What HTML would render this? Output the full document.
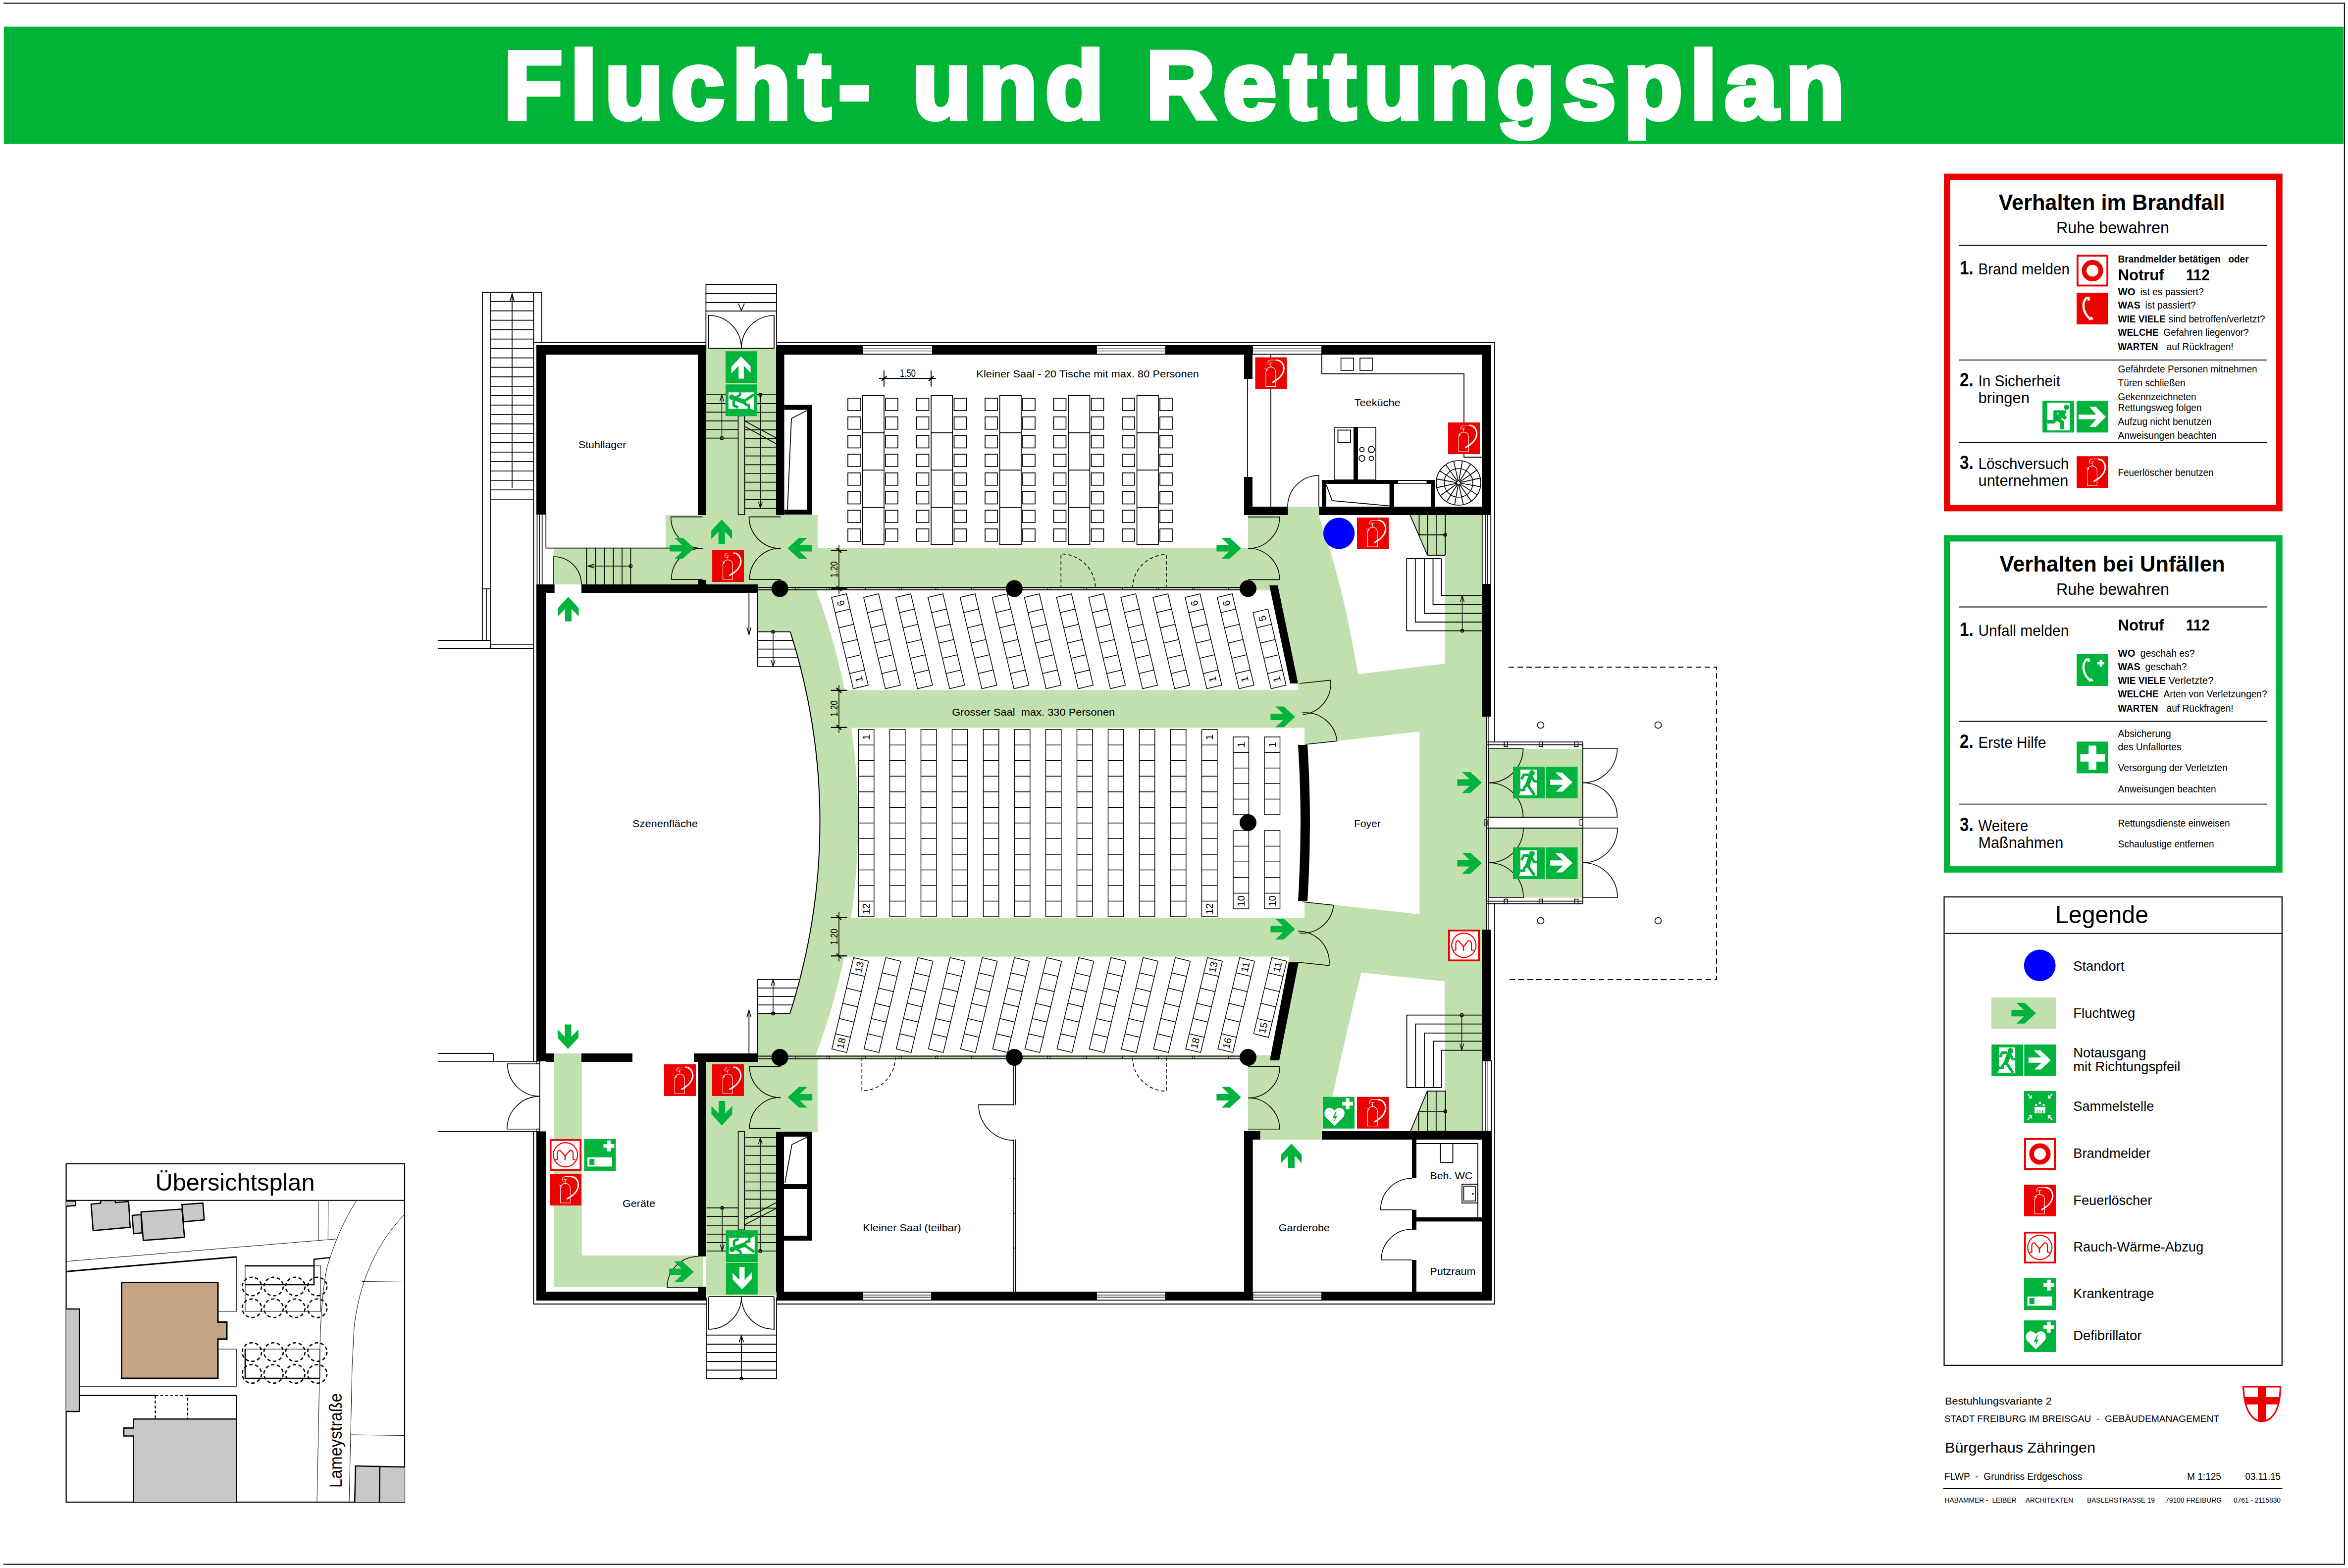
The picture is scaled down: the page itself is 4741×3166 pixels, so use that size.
<!DOCTYPE html><html><head><meta charset="utf-8"><style>html,body{margin:0;padding:0;background:#fff}svg{display:block}text{font-family:"Liberation Sans",sans-serif}</style></head><body>
<svg xmlns="http://www.w3.org/2000/svg" width="4741" height="3166" viewBox="0 0 4741 3166">
<rect width="4741" height="3166" fill="#fff"/>
<defs>
<g id="fe"><rect width="64" height="64" fill="#EC0000"/>
<path d="M21.5,59 L21.5,28 C23,22 27,19.6 31.5,19.4 C36,19.6 40,22 41.3,28 L41.3,59 Z M21.5,28 L24.5,26 L24.5,23.5" fill="none" stroke="#fff" stroke-width="1.1"/>
<path d="M31.6,19.4 L31.6,11.2 M28,11.2 L35.2,11.2 M28,15 L31.6,15 M19,22.5 L24,24.5" fill="none" stroke="#fff" stroke-width="1"/>
<path d="M26,14.5 C24.5,9 27,5.5 31.5,5.5 L44,5.5" fill="none" stroke="#fff" stroke-width="1.2"/>
<path d="M44,5.8 C55,7 61,19 56,31 C52,40 44,46 35.5,50.3" fill="none" stroke="#fff" stroke-width="3" stroke-linecap="round"/>
</g>
<g id="exm"><rect width="64" height="64" fill="#00B33C"/>
<rect x="14.8" y="5.9" width="33.1" height="51.9" fill="#fff"/>
<polygon points="11.7,57.8 14.8,52 34.6,52 34.6,57.8" fill="#fff"/>
<circle cx="38.3" cy="12.7" r="5.6" fill="#00B33C"/>
<path d="M35.5,19.5 L29,37" stroke="#00B33C" stroke-width="9" stroke-linecap="round" fill="none"/>
<path d="M36,17.6 L42.6,29 L48,30" stroke="#00B33C" stroke-width="5" fill="none" stroke-linejoin="round"/>
<path d="M32,16.4 L21.6,16.4 L17.3,25.6" stroke="#00B33C" stroke-width="5.2" fill="none" stroke-linejoin="round"/>
<path d="M29,36 L43.5,57" stroke="#00B33C" stroke-width="5.6" fill="none"/>
<path d="M28,36 L22.5,42.5 L22.5,47 L14.8,47" stroke="#00B33C" stroke-width="5" fill="none" stroke-linejoin="miter"/>
</g>
<g id="exml"><use href="#exm" transform="translate(64,0) scale(-1,1)"/></g>
<g id="exa"><rect width="64" height="64" fill="#00B33C"/>
<polygon points="8.6,26.3 34.8,26.3 19.1,11.7 32.7,11.7 53.7,31.4 33.5,50.6 20.4,50.6 34.8,36.8 8.6,36.8" fill="#fff"/></g>
<g id="bm"><rect x="1.9" y="1.9" width="60.2" height="60.2" fill="#fff" stroke="#EC0000" stroke-width="3.8"/>
<circle cx="32" cy="32" r="16.8" fill="none" stroke="#EC0000" stroke-width="9.6"/></g>
<g id="rwa"><rect x="1.8" y="1.8" width="60.4" height="60.4" fill="#fff" stroke="#EC0000" stroke-width="3.6"/>
<circle cx="31.8" cy="31.6" r="24.5" fill="none" stroke="#EC0000" stroke-width="2.2"/>
<path d="M11,41.5 L15.5,41.5 L15.5,29 Q15.8,22 21,22.5 L31,34.5 L41,22.5 Q46.8,22 47.2,29 L47.2,41.5 L52,41.5" fill="none" stroke="#EC0000" stroke-width="2.2" stroke-linejoin="round"/>
<path d="M31,34 L31,42.5" fill="none" stroke="#EC0000" stroke-width="2.6"/></g>
<g id="kt"><rect width="64" height="64" fill="#00B33C"/>
<path d="M39,13.8 L61,13.8 M50,2.8 L50,24.8" stroke="#fff" stroke-width="7.4"/>
<rect x="6.7" y="36.8" width="49.6" height="18.6" fill="#fff"/><rect x="10.6" y="40" width="10.2" height="12.2" fill="#00B33C"/></g>
<g id="defi"><rect width="64" height="64" fill="#00B33C"/>
<path d="M39,13.8 L61,13.8 M50,2.8 L50,24.8" stroke="#fff" stroke-width="7.4"/>
<path d="M23.7,58.6 L7,42 C1,35.5 3,23.5 12,22.2 C17,21.5 21,24 23.7,28 C26.5,24 30.5,21.5 35.5,22.2 C44.5,23.5 46.5,35.5 40.4,42 Z" fill="#fff"/>
<polygon points="26,30 19.5,43 24.5,43 21,53 29.5,38.5 24.5,38.5 28,30" fill="#00B33C"/></g>
<g id="fa"><rect width="64" height="64" fill="#00B33C"/>
<path d="M32,8 L32,57 M7.5,32.5 L57,32.5" stroke="#fff" stroke-width="15.5"/></g>
<g id="ph"><rect width="64" height="64" fill="#EC0000"/>
<path d="M21,9 C10,20 11,38 27,53 L30,50 M24,9 L25,15" fill="none" stroke="#fff" stroke-width="4.5" stroke-linecap="butt"/>
<path d="M22,8 L26,8.5 L25.5,16 L22,16 Z M27,51 L30,48 L34,53 L31,55.5 Z" fill="#fff"/></g>
<g id="phg"><rect width="64" height="64" fill="#00B33C"/>
<path d="M21,9 C10,20 11,38 27,53 L30,50 M24,9 L25,15" fill="none" stroke="#fff" stroke-width="4.5"/>
<path d="M22,8 L26,8.5 L25.5,16 L22,16 Z M27,51 L30,48 L34,53 L31,55.5 Z" fill="#fff"/>
<path d="M42,18 L56,18 M49,11 L49,25" stroke="#fff" stroke-width="4.8"/></g>
<g id="sam"><rect width="64" height="64" fill="#00B33C"/>
<g stroke="#fff" stroke-width="2.2" fill="none"><path d="M7,6 L15,14 M15,8.5 L15,14 L9.5,14"/><path d="M57,6 L49,14 M49,8.5 L49,14 L54.5,14"/>
<path d="M7,58 L15,50 M15,55.5 L15,50 L9.5,50"/><path d="M57,58 L49,50 M49,55.5 L49,50 L54.5,50"/></g>
<g fill="#fff"><circle cx="32" cy="24" r="2.6"/><circle cx="24.5" cy="28" r="2.3"/><circle cx="39.5" cy="28" r="2.3"/><circle cx="28" cy="34" r="2.2"/><circle cx="36" cy="34" r="2.2"/>
<rect x="21" y="32" width="22" height="13" rx="2"/></g>
<path d="M26.5,38 L26.5,46 M32,38 L32,46 M37.5,38 L37.5,46" stroke="#00B33C" stroke-width="1.5"/></g>
<g id="exm2"><rect width="64" height="64" fill="#00B33C"/>
<rect x="9.5" y="3.7" width="45.4" height="56.1" fill="#fff"/>
<circle cx="48.5" cy="12.9" r="5.3" fill="#00B33C"/>
<polygon points="22,21 23.5,19.3 46.6,19.3 48.8,22.4 44.5,28 49.5,33.5 45,38.5 39.5,34.5 34,40 30,40 23.5,46 9.5,46 9.5,38.7 20.8,38.7 22,36" fill="#00B33C"/>
<polygon points="29,40 36.5,36 43.5,42 43.5,57.7 36,57.7 36,45" fill="#00B33C"/>
<circle cx="31" cy="26" r="1.3" fill="#fff"/></g>
<g id="exa2"><rect width="64" height="64" fill="#00B33C"/>
<polygon points="4,27.9 39.6,27.9 25.8,12 39,12 58.9,32.4 39,52.8 25.8,52.8 39.6,37.1 4,37.1" fill="#fff"/></g>
</defs>
<line x1="7" y1="6.5" x2="4734" y2="6.5" stroke="#000" stroke-width="2" />
<line x1="7" y1="3158.6" x2="4734" y2="3158.6" stroke="#000" stroke-width="2" />
<line x1="4733.8" y1="5.5" x2="4733.8" y2="3159.6" stroke="#000" stroke-width="2" />
<rect x="8" y="53.7" width="4724" height="237.1" fill="#00B536" />
<text x="1017.8" y="239.4" font-size="193" font-weight="bold" fill="#fff" stroke="#fff" stroke-width="10" stroke-linejoin="miter" stroke-miterlimit="4" textLength="2706" lengthAdjust="spacing">Flucht- und Rettungsplan</text>
<rect x="1426" y="703" width="141" height="337" fill="#C2E0AE" />
<rect x="2600.5" y="1023" width="62.5" height="18" fill="#C2E0AE" />
<rect x="1344" y="1040" width="307" height="148" fill="#C2E0AE" />
<rect x="1118" y="1107" width="226" height="73" fill="#C2E0AE" />
<rect x="1651" y="1106.6" width="869" height="83.4" fill="#C2E0AE" />
<polygon points="1530,1188 2640,1188 2640,2135 1530,2137 1530,2046 1595.1,2046 1601.1,2026.7 1606.8,2007.5 1612.1,1988.2 1617.2,1969 1621.9,1949.7 1626.2,1930.4 1630.3,1911.2 1634,1891.9 1637.5,1872.7 1640.6,1853.4 1643.4,1834.1 1646,1814.9 1648.2,1795.6 1650.1,1776.4 1651.8,1757.1 1653.1,1737.8 1654.1,1718.6 1654.9,1699.3 1655.3,1680.1 1655.5,1660.8 1655.4,1641.5 1654.9,1622.3 1654.2,1603 1653.2,1583.8 1651.9,1564.5 1650.3,1545.2 1648.4,1526 1646.2,1506.7 1643.7,1487.5 1640.9,1468.2 1637.8,1448.9 1634.3,1429.7 1630.6,1410.4 1626.6,1391.2 1622.2,1371.9 1617.6,1352.6 1612.6,1333.4 1607.3,1314.1 1601.6,1294.9 1595.6,1275.6 1530,1275.6" fill="#C2E0AE" stroke="none" stroke-width="0" />
<polygon points="2520,1040 2992,1040 2992,2301 2520,2301" fill="#C2E0AE" stroke="none" stroke-width="0" />
<rect x="2990" y="1447" width="11.3" height="430" fill="#C2E0AE" />
<rect x="3006" y="1512" width="190" height="138" fill="#C2E0AE" />
<rect x="3006" y="1672" width="190" height="140.5" fill="#C2E0AE" />
<rect x="1426" y="2135" width="142" height="480.6" fill="#C2E0AE" />
<rect x="1568" y="2135" width="83" height="150" fill="#C2E0AE" />
<rect x="1118" y="2127" width="56.7" height="471.5" fill="#C2E0AE" />
<rect x="1118" y="2535" width="294" height="63.5" fill="#C2E0AE" />
<path d="M1346,2600 L1346,2590 A63,63 0 0 1 1409,2537 L1420,2537 L1420,2600 Z" fill="#C2E0AE" stroke="none" stroke-width="0" />
<polygon points="2563,1192 2580,1192 2621,1385 2622,1393.6 1705.8,1393.6 1702.3,1376.8 1698.5,1360 1694.5,1343.2 1690.3,1326.4 1685.9,1309.6 1681.2,1292.8 1676.3,1276 1671.2,1259.2 1665.8,1242.4 1660.2,1225.6 1654.3,1208.8 1648.2,1192" fill="#fff" stroke="none" stroke-width="0" />
<polygon points="1718.9,1469.5 1721.5,1488.7 1723.8,1507.8 1725.9,1527 1727.7,1546.2 1729.2,1565.4 1730.4,1584.5 1731.3,1603.7 1732,1622.9 1732.4,1642.1 1732.5,1661.2 1732.3,1680.4 1731.9,1699.6 1731.2,1718.8 1730.2,1738 1729,1757.1 1727.4,1776.3 1725.6,1795.5 1723.6,1814.7 1721.2,1833.8 1718.5,1853 2634,1853 2634,1469.5" fill="#fff" stroke="none" stroke-width="0" />
<polygon points="1704.7,1931.6 1701.2,1948.2 1697.4,1964.8 1693.4,1981.3 1689.2,1997.9 1684.8,2014.5 1680.1,2031.1 1675.2,2047.7 1670.1,2064.3 1664.8,2080.8 1659.1,2097.4 1653.3,2114 1647.2,2130.6 2572,2130.6 2603,1931.6" fill="#fff" stroke="none" stroke-width="0" />
<path d="M2662,1040 L2847,1040 L2882,1121 L2917.4,1121 L2917.4,1340 L2742,1361.3 Q2710,1170 2662,1040 Z" fill="#fff" stroke="none" stroke-width="0" />
<polygon points="2638.5,1503.3 2866.5,1477 2866.5,1846 2638.5,1821" fill="#fff" stroke="none" stroke-width="0" />
<path d="M2748.5,1963.8 L2917,1981.6 L2917,2203 L2882,2203 L2848,2284 L2669,2284 L2690,2215 Q2715,2100 2748.5,1963.8 Z" fill="#fff" stroke="none" stroke-width="0" />
<line x1="1078" y1="691" x2="1425.4" y2="691" stroke="#000" stroke-width="1.8" />
<line x1="1568" y1="691" x2="3018" y2="691" stroke="#000" stroke-width="1.8" />
<line x1="3018" y1="691" x2="3018" y2="1499" stroke="#000" stroke-width="1.8" />
<line x1="3018" y1="1823.5" x2="3018" y2="2633" stroke="#000" stroke-width="1.8" />
<line x1="1077" y1="2633" x2="1426" y2="2633" stroke="#000" stroke-width="1.8" />
<line x1="1568" y1="2633" x2="3019" y2="2633" stroke="#000" stroke-width="1.8" />
<line x1="1077.5" y1="691" x2="1077.5" y2="2143" stroke="#000" stroke-width="1.8" />
<line x1="1077.5" y1="2284.4" x2="1077.5" y2="2633" stroke="#000" stroke-width="1.8" />
<line x1="974" y1="590" x2="974" y2="1293" stroke="#000" stroke-width="1.8" />
<line x1="990" y1="590" x2="990" y2="1309" stroke="#000" stroke-width="1.8" />
<line x1="1094" y1="590" x2="1094" y2="691" stroke="#000" stroke-width="1.8" />
<line x1="1077.5" y1="590" x2="1077.5" y2="691" stroke="#000" stroke-width="1.8" />
<line x1="974" y1="590" x2="1094" y2="590" stroke="#000" stroke-width="1.8" />
<line x1="990" y1="608.6" x2="1077.5" y2="608.6" stroke="#000" stroke-width="1.7" />
<line x1="990" y1="627.6" x2="1077.5" y2="627.6" stroke="#000" stroke-width="1.7" />
<line x1="990" y1="646.6" x2="1077.5" y2="646.6" stroke="#000" stroke-width="1.7" />
<line x1="990" y1="665.7" x2="1077.5" y2="665.7" stroke="#000" stroke-width="1.7" />
<line x1="990" y1="684.7" x2="1077.5" y2="684.7" stroke="#000" stroke-width="1.7" />
<line x1="990" y1="703.7" x2="1077.5" y2="703.7" stroke="#000" stroke-width="1.7" />
<line x1="990" y1="722.7" x2="1077.5" y2="722.7" stroke="#000" stroke-width="1.7" />
<line x1="990" y1="741.7" x2="1077.5" y2="741.7" stroke="#000" stroke-width="1.7" />
<line x1="990" y1="760.8" x2="1077.5" y2="760.8" stroke="#000" stroke-width="1.7" />
<line x1="990" y1="779.8" x2="1077.5" y2="779.8" stroke="#000" stroke-width="1.7" />
<line x1="990" y1="798.8" x2="1077.5" y2="798.8" stroke="#000" stroke-width="1.7" />
<line x1="990" y1="817.8" x2="1077.5" y2="817.8" stroke="#000" stroke-width="1.7" />
<line x1="990" y1="836.8" x2="1077.5" y2="836.8" stroke="#000" stroke-width="1.7" />
<line x1="990" y1="855.9" x2="1077.5" y2="855.9" stroke="#000" stroke-width="1.7" />
<line x1="990" y1="874.9" x2="1077.5" y2="874.9" stroke="#000" stroke-width="1.7" />
<line x1="990" y1="893.9" x2="1077.5" y2="893.9" stroke="#000" stroke-width="1.7" />
<line x1="990" y1="912.9" x2="1077.5" y2="912.9" stroke="#000" stroke-width="1.7" />
<line x1="990" y1="931.9" x2="1077.5" y2="931.9" stroke="#000" stroke-width="1.7" />
<line x1="990" y1="951" x2="1077.5" y2="951" stroke="#000" stroke-width="1.7" />
<line x1="990" y1="970" x2="1077.5" y2="970" stroke="#000" stroke-width="1.7" />
<line x1="990" y1="989" x2="1077.5" y2="989" stroke="#000" stroke-width="1.7" />
<line x1="990" y1="1008" x2="1077.5" y2="1008" stroke="#000" stroke-width="1.7" />
<line x1="1034" y1="593" x2="1034" y2="986" stroke="#000" stroke-width="1.7" />
<polyline points="1030,608 1034,593 1038,608" fill="none" stroke="#000" stroke-width="1.7" />
<line x1="982" y1="1189" x2="982" y2="1293" stroke="#000" stroke-width="1.7" />
<line x1="974" y1="1189" x2="990" y2="1189" stroke="#000" stroke-width="1.7" />
<line x1="884" y1="1293" x2="990" y2="1293" stroke="#000" stroke-width="1.8" />
<line x1="884" y1="1309" x2="1077.5" y2="1309" stroke="#000" stroke-width="1.8" />
<line x1="990" y1="1301" x2="1077.5" y2="1301" stroke="#000" stroke-width="1.7" />
<line x1="1084.5" y1="1039" x2="1084.5" y2="1180" stroke="#000" stroke-width="1.7" />
<line x1="1089.6" y1="1039" x2="1089.6" y2="1180" stroke="#000" stroke-width="1.7" />
<line x1="1094.7" y1="1039" x2="1094.7" y2="1180" stroke="#000" stroke-width="1.7" />
<line x1="1102.3" y1="1039" x2="1102.3" y2="1107" stroke="#000" stroke-width="1.7" />
<line x1="884" y1="2127" x2="996" y2="2127" stroke="#000" stroke-width="1.8" />
<line x1="996" y1="2127" x2="996" y2="2142.8" stroke="#000" stroke-width="1.8" />
<line x1="884" y1="2142.8" x2="1083" y2="2142.8" stroke="#000" stroke-width="1.8" />
<line x1="884" y1="2284.7" x2="1083" y2="2284.7" stroke="#000" stroke-width="1.8" />
<line x1="1090" y1="2142.8" x2="1090" y2="2284.4" stroke="#000" stroke-width="1.8" />
<rect x="1083" y="2142.8" width="7" height="5.2" fill="none" stroke="#000" stroke-width="1.2" />
<rect x="1083" y="2279.5" width="7" height="4.9" fill="none" stroke="#000" stroke-width="1.2" />
<path d="M1090,2148 L1024.6,2148 A65.4,65.4 0 0 0 1090,2213.4" fill="none" stroke="#000" stroke-width="1.6"/>
<path d="M1090,2279.8 L1023.8,2279.8 A66.2,66.2 0 0 1 1090,2213.6" fill="none" stroke="#000" stroke-width="1.6"/>
<rect x="1425.4" y="574.3" width="142.6" height="53.7" fill="none" stroke="#000" stroke-width="1.8" />
<line x1="1425.4" y1="592.9" x2="1568" y2="592.9" stroke="#000" stroke-width="1.8" />
<line x1="1425.4" y1="611" x2="1568" y2="611" stroke="#000" stroke-width="1.8" />
<polyline points="1491,613 1497,627 1503,613" fill="none" stroke="#000" stroke-width="1.75" />
<line x1="1425.4" y1="628" x2="1425.4" y2="707" stroke="#000" stroke-width="1.8" />
<line x1="1568" y1="628" x2="1568" y2="707" stroke="#000" stroke-width="1.8" />
<line x1="1430.6" y1="637.5" x2="1430.6" y2="703" stroke="#000" stroke-width="1.75" />
<line x1="1563" y1="637.5" x2="1563" y2="703" stroke="#000" stroke-width="1.75" />
<line x1="1430.6" y1="703" x2="1563" y2="703" stroke="#000" stroke-width="1.75" />
<path d="M1430.6,703 L1430.6,636.7 A66.3,66.3 0 0 1 1496.9,703" fill="none" stroke="#000" stroke-width="1.6"/>
<path d="M1563,703 L1563,637 A66,66 0 0 0 1497,703" fill="none" stroke="#000" stroke-width="1.6"/>
<line x1="1426" y1="2620" x2="1426" y2="2700" stroke="#000" stroke-width="1.8" />
<line x1="1568" y1="2620" x2="1568" y2="2700" stroke="#000" stroke-width="1.8" />
<line x1="1431" y1="2618" x2="1431" y2="2683" stroke="#000" stroke-width="1.75" />
<line x1="1563" y1="2618" x2="1563" y2="2683" stroke="#000" stroke-width="1.75" />
<line x1="1431" y1="2618" x2="1563" y2="2618" stroke="#000" stroke-width="1.75" />
<path d="M1431,2618 L1431,2684 A66,66 0 0 0 1497,2618" fill="none" stroke="#000" stroke-width="1.6"/>
<path d="M1563,2618 L1563,2684 A66,66 0 0 1 1497,2618" fill="none" stroke="#000" stroke-width="1.6"/>
<rect x="1426" y="2695.7" width="142" height="87.8" fill="none" stroke="#000" stroke-width="1.8" />
<line x1="1426" y1="2714" x2="1568" y2="2714" stroke="#000" stroke-width="1.8" />
<line x1="1426" y1="2731" x2="1568" y2="2731" stroke="#000" stroke-width="1.8" />
<line x1="1426" y1="2749" x2="1568" y2="2749" stroke="#000" stroke-width="1.8" />
<line x1="1426" y1="2766.5" x2="1568" y2="2766.5" stroke="#000" stroke-width="1.8" />
<line x1="1497" y1="2697" x2="1497" y2="2783.5" stroke="#000" stroke-width="1.8" />
<polyline points="1492.5,2710 1497,2697 1501.5,2710" fill="none" stroke="#000" stroke-width="1.8" />
<circle cx="1497" cy="2783.5" r="3" fill="none" stroke="#000" stroke-width="1.7" />
<rect x="1741.6" y="697" width="141.1" height="19" fill="#fff" />
<line x1="1741.6" y1="697.8" x2="1882.7" y2="697.8" stroke="#000" stroke-width="1.75" />
<line x1="1741.6" y1="715.2" x2="1882.7" y2="715.2" stroke="#000" stroke-width="1.75" />
<line x1="1741.6" y1="704.3" x2="1882.7" y2="704.3" stroke="#000" stroke-width="1.2" />
<line x1="1741.6" y1="708.7" x2="1882.7" y2="708.7" stroke="#000" stroke-width="1.2" />
<line x1="1741.6" y1="697" x2="1741.6" y2="716" stroke="#000" stroke-width="1.75" />
<line x1="1882.7" y1="697" x2="1882.7" y2="716" stroke="#000" stroke-width="1.75" />
<rect x="2214" y="697" width="139.6" height="19" fill="#fff" />
<line x1="2214" y1="697.8" x2="2353.6" y2="697.8" stroke="#000" stroke-width="1.75" />
<line x1="2214" y1="715.2" x2="2353.6" y2="715.2" stroke="#000" stroke-width="1.75" />
<line x1="2214" y1="704.3" x2="2353.6" y2="704.3" stroke="#000" stroke-width="1.2" />
<line x1="2214" y1="708.7" x2="2353.6" y2="708.7" stroke="#000" stroke-width="1.2" />
<line x1="2214" y1="697" x2="2214" y2="716" stroke="#000" stroke-width="1.75" />
<line x1="2353.6" y1="697" x2="2353.6" y2="716" stroke="#000" stroke-width="1.75" />
<rect x="2529" y="697" width="140" height="19" fill="#fff" />
<line x1="2529" y1="697.8" x2="2669" y2="697.8" stroke="#000" stroke-width="1.75" />
<line x1="2529" y1="715.2" x2="2669" y2="715.2" stroke="#000" stroke-width="1.75" />
<line x1="2529" y1="704.3" x2="2669" y2="704.3" stroke="#000" stroke-width="1.2" />
<line x1="2529" y1="708.7" x2="2669" y2="708.7" stroke="#000" stroke-width="1.2" />
<line x1="2529" y1="697" x2="2529" y2="716" stroke="#000" stroke-width="1.75" />
<line x1="2669" y1="697" x2="2669" y2="716" stroke="#000" stroke-width="1.75" />
<rect x="1741.6" y="2608" width="139.4" height="18" fill="#fff" />
<line x1="1741.6" y1="2608.8" x2="1881" y2="2608.8" stroke="#000" stroke-width="1.75" />
<line x1="1741.6" y1="2625.2" x2="1881" y2="2625.2" stroke="#000" stroke-width="1.75" />
<line x1="1741.6" y1="2614.8" x2="1881" y2="2614.8" stroke="#000" stroke-width="1.2" />
<line x1="1741.6" y1="2619.2" x2="1881" y2="2619.2" stroke="#000" stroke-width="1.2" />
<line x1="1741.6" y1="2608" x2="1741.6" y2="2626" stroke="#000" stroke-width="1.75" />
<line x1="1881" y1="2608" x2="1881" y2="2626" stroke="#000" stroke-width="1.75" />
<rect x="2214" y="2608" width="139.6" height="18" fill="#fff" />
<line x1="2214" y1="2608.8" x2="2353.6" y2="2608.8" stroke="#000" stroke-width="1.75" />
<line x1="2214" y1="2625.2" x2="2353.6" y2="2625.2" stroke="#000" stroke-width="1.75" />
<line x1="2214" y1="2614.8" x2="2353.6" y2="2614.8" stroke="#000" stroke-width="1.2" />
<line x1="2214" y1="2619.2" x2="2353.6" y2="2619.2" stroke="#000" stroke-width="1.2" />
<line x1="2214" y1="2608" x2="2214" y2="2626" stroke="#000" stroke-width="1.75" />
<line x1="2353.6" y1="2608" x2="2353.6" y2="2626" stroke="#000" stroke-width="1.75" />
<rect x="2529.6" y="2608" width="139.4" height="18" fill="#fff" />
<line x1="2529.6" y1="2608.8" x2="2669" y2="2608.8" stroke="#000" stroke-width="1.75" />
<line x1="2529.6" y1="2625.2" x2="2669" y2="2625.2" stroke="#000" stroke-width="1.75" />
<line x1="2529.6" y1="2614.8" x2="2669" y2="2614.8" stroke="#000" stroke-width="1.2" />
<line x1="2529.6" y1="2619.2" x2="2669" y2="2619.2" stroke="#000" stroke-width="1.2" />
<line x1="2529.6" y1="2608" x2="2529.6" y2="2626" stroke="#000" stroke-width="1.75" />
<line x1="2669" y1="2608" x2="2669" y2="2626" stroke="#000" stroke-width="1.75" />
<rect x="2992" y="1038" width="19" height="142" fill="#fff" />
<line x1="2992.8" y1="1038" x2="2992.8" y2="1180" stroke="#000" stroke-width="1.75" />
<line x1="3010.2" y1="1038" x2="3010.2" y2="1180" stroke="#000" stroke-width="1.75" />
<line x1="2999.3" y1="1038" x2="2999.3" y2="1180" stroke="#000" stroke-width="1.2" />
<line x1="3003.7" y1="1038" x2="3003.7" y2="1180" stroke="#000" stroke-width="1.2" />
<line x1="2992" y1="1038" x2="3011" y2="1038" stroke="#000" stroke-width="1.75" />
<line x1="2992" y1="1180" x2="3011" y2="1180" stroke="#000" stroke-width="1.75" />
<rect x="2992" y="2142" width="20" height="142" fill="#fff" />
<line x1="2992.8" y1="2142" x2="2992.8" y2="2284" stroke="#000" stroke-width="1.75" />
<line x1="3011.2" y1="2142" x2="3011.2" y2="2284" stroke="#000" stroke-width="1.75" />
<line x1="2999.8" y1="2142" x2="2999.8" y2="2284" stroke="#000" stroke-width="1.2" />
<line x1="3004.2" y1="2142" x2="3004.2" y2="2284" stroke="#000" stroke-width="1.2" />
<line x1="2992" y1="2142" x2="3012" y2="2142" stroke="#000" stroke-width="1.75" />
<line x1="2992" y1="2284" x2="3012" y2="2284" stroke="#000" stroke-width="1.75" />
<line x1="3001.3" y1="1447" x2="3001.3" y2="1877" stroke="#000" stroke-width="1.6" />
<line x1="3006.1" y1="1447" x2="3006.1" y2="1877" stroke="#000" stroke-width="1.6" />
<line x1="1426" y1="797.2" x2="1490.5" y2="797.2" stroke="#000" stroke-width="1.7" />
<line x1="1426" y1="814.8" x2="1490.5" y2="814.8" stroke="#000" stroke-width="1.7" />
<line x1="1426" y1="832.2" x2="1490.5" y2="832.2" stroke="#000" stroke-width="1.7" />
<line x1="1426" y1="849.8" x2="1490.5" y2="849.8" stroke="#000" stroke-width="1.7" />
<line x1="1426" y1="867.5" x2="1490.5" y2="867.5" stroke="#000" stroke-width="1.7" />
<line x1="1426" y1="884.7" x2="1490.5" y2="884.7" stroke="#000" stroke-width="1.7" />
<line x1="1503.5" y1="797.2" x2="1567" y2="797.2" stroke="#000" stroke-width="1.7" />
<line x1="1503.5" y1="814.8" x2="1567" y2="814.8" stroke="#000" stroke-width="1.7" />
<line x1="1503.5" y1="832.5" x2="1567" y2="832.5" stroke="#000" stroke-width="1.7" />
<line x1="1503.5" y1="850.1" x2="1567" y2="850.1" stroke="#000" stroke-width="1.7" />
<line x1="1503.5" y1="867.8" x2="1567" y2="867.8" stroke="#000" stroke-width="1.7" />
<line x1="1503.5" y1="885.4" x2="1567" y2="885.4" stroke="#000" stroke-width="1.7" />
<line x1="1503.5" y1="903" x2="1567" y2="903" stroke="#000" stroke-width="1.7" />
<line x1="1503.5" y1="920.7" x2="1567" y2="920.7" stroke="#000" stroke-width="1.7" />
<line x1="1503.5" y1="938.3" x2="1567" y2="938.3" stroke="#000" stroke-width="1.7" />
<line x1="1503.5" y1="956" x2="1567" y2="956" stroke="#000" stroke-width="1.7" />
<line x1="1503.5" y1="973.6" x2="1567" y2="973.6" stroke="#000" stroke-width="1.7" />
<line x1="1503.5" y1="991.2" x2="1567" y2="991.2" stroke="#000" stroke-width="1.7" />
<line x1="1503.5" y1="1008.9" x2="1567" y2="1008.9" stroke="#000" stroke-width="1.7" />
<line x1="1503.5" y1="1026.5" x2="1567" y2="1026.5" stroke="#000" stroke-width="1.7" />
<rect x="1490.5" y="839.5" width="13" height="199.7" fill="none" stroke="#000" stroke-width="1.7" />
<line x1="1503.5" y1="850" x2="1567" y2="884" stroke="#000" stroke-width="1.7" />
<line x1="1503.5" y1="861" x2="1567" y2="896" stroke="#000" stroke-width="1.7" />
<line x1="1457.5" y1="884.7" x2="1457.5" y2="797.2" stroke="#000" stroke-width="1.4" />
<polyline points="1453.5,810.2 1457.5,797.2 1461.5,810.2" fill="none" stroke="#000" stroke-width="1.4" />
<circle cx="1457.5" cy="884.7" r="3" fill="none" stroke="#000" stroke-width="1.7" />
<line x1="1535.3" y1="797.2" x2="1535.3" y2="1026" stroke="#000" stroke-width="1.4" />
<polyline points="1531.3,1013 1535.3,1026 1539.3,1013" fill="none" stroke="#000" stroke-width="1.4" />
<circle cx="1535.3" cy="797.2" r="3" fill="none" stroke="#000" stroke-width="1.7" />
<polyline points="1629.6,828.8 1598,845 1590,1029" fill="none" stroke="#000" stroke-width="1.75" />
<path d="M1418.6,1043.6 L1354.6,1043.6 A64,64 0 0 0 1418.6,1107.6" fill="none" stroke="#000" stroke-width="1.6"/>
<path d="M1418.6,1169.9 L1355.6,1169.9 A63,63 0 0 1 1418.6,1106.9" fill="none" stroke="#000" stroke-width="1.6"/>
<path d="M1576.4,1043.6 L1512.4,1043.6 A64,64 0 0 0 1576.4,1107.6" fill="none" stroke="#000" stroke-width="1.6"/>
<path d="M1576.4,1169.9 L1513.4,1169.9 A63,63 0 0 1 1576.4,1106.9" fill="none" stroke="#000" stroke-width="1.6"/>
<line x1="1530" y1="1186" x2="2520" y2="1186" stroke="#000" stroke-width="1.8" />
<line x1="1530" y1="1191" x2="2520" y2="1191" stroke="#000" stroke-width="1.8" />
<line x1="1530" y1="2132.5" x2="2520" y2="2132.5" stroke="#000" stroke-width="1.8" />
<line x1="1530" y1="2137.8" x2="2520" y2="2137.8" stroke="#000" stroke-width="1.8" />
<rect x="1606.5" y="1186" width="5" height="5" fill="none" stroke="#000" stroke-width="1.1" />
<rect x="1606.5" y="2132.5" width="5" height="5.3" fill="none" stroke="#000" stroke-width="1.1" />
<rect x="1669.5" y="1186" width="5" height="5" fill="none" stroke="#000" stroke-width="1.1" />
<rect x="1669.5" y="2132.5" width="5" height="5.3" fill="none" stroke="#000" stroke-width="1.1" />
<rect x="1742.5" y="1186" width="5" height="5" fill="none" stroke="#000" stroke-width="1.1" />
<rect x="1742.5" y="2132.5" width="5" height="5.3" fill="none" stroke="#000" stroke-width="1.1" />
<rect x="1815.5" y="1186" width="5" height="5" fill="none" stroke="#000" stroke-width="1.1" />
<rect x="1815.5" y="2132.5" width="5" height="5.3" fill="none" stroke="#000" stroke-width="1.1" />
<rect x="1888.5" y="1186" width="5" height="5" fill="none" stroke="#000" stroke-width="1.1" />
<rect x="1888.5" y="2132.5" width="5" height="5.3" fill="none" stroke="#000" stroke-width="1.1" />
<rect x="1961.5" y="1186" width="5" height="5" fill="none" stroke="#000" stroke-width="1.1" />
<rect x="1961.5" y="2132.5" width="5" height="5.3" fill="none" stroke="#000" stroke-width="1.1" />
<rect x="2115.5" y="1186" width="5" height="5" fill="none" stroke="#000" stroke-width="1.1" />
<rect x="2115.5" y="2132.5" width="5" height="5.3" fill="none" stroke="#000" stroke-width="1.1" />
<rect x="2188.5" y="1186" width="5" height="5" fill="none" stroke="#000" stroke-width="1.1" />
<rect x="2188.5" y="2132.5" width="5" height="5.3" fill="none" stroke="#000" stroke-width="1.1" />
<rect x="2261.5" y="1186" width="5" height="5" fill="none" stroke="#000" stroke-width="1.1" />
<rect x="2261.5" y="2132.5" width="5" height="5.3" fill="none" stroke="#000" stroke-width="1.1" />
<rect x="2334.5" y="1186" width="5" height="5" fill="none" stroke="#000" stroke-width="1.1" />
<rect x="2334.5" y="2132.5" width="5" height="5.3" fill="none" stroke="#000" stroke-width="1.1" />
<rect x="2407.5" y="1186" width="5" height="5" fill="none" stroke="#000" stroke-width="1.1" />
<rect x="2407.5" y="2132.5" width="5" height="5.3" fill="none" stroke="#000" stroke-width="1.1" />
<rect x="2480.5" y="1186" width="5" height="5" fill="none" stroke="#000" stroke-width="1.1" />
<rect x="2480.5" y="2132.5" width="5" height="5.3" fill="none" stroke="#000" stroke-width="1.1" />
<line x1="1512.3" y1="1197" x2="1512.3" y2="1281" stroke="#000" stroke-width="1.75" />
<polyline points="1508,1267 1512.3,1281 1516.6,1267" fill="none" stroke="#000" stroke-width="1.75" />
<line x1="1529.6" y1="1197" x2="1529.6" y2="1346" stroke="#000" stroke-width="1.75" />
<line x1="1529.6" y1="1275.5" x2="1595.6" y2="1275.5" stroke="#000" stroke-width="1.75" />
<line x1="1529.6" y1="1293" x2="1601" y2="1293" stroke="#000" stroke-width="1.75" />
<line x1="1529.6" y1="1310.5" x2="1606.2" y2="1310.5" stroke="#000" stroke-width="1.75" />
<line x1="1529.6" y1="1328" x2="1611.1" y2="1328" stroke="#000" stroke-width="1.75" />
<line x1="1529.6" y1="1346" x2="1615.9" y2="1346" stroke="#000" stroke-width="1.75" />
<line x1="1561" y1="1275.5" x2="1561" y2="1346" stroke="#000" stroke-width="1.4" />
<polyline points="1557,1333 1561,1346 1565,1333" fill="none" stroke="#000" stroke-width="1.4" />
<circle cx="1561" cy="1275.5" r="3" fill="none" stroke="#000" stroke-width="1.7" />
<line x1="1529.6" y1="1977.6" x2="1529.6" y2="2127" stroke="#000" stroke-width="1.75" />
<line x1="1529.6" y1="1977.6" x2="1614.9" y2="1977.6" stroke="#000" stroke-width="1.75" />
<line x1="1529.6" y1="1994.8" x2="1610.4" y2="1994.8" stroke="#000" stroke-width="1.75" />
<line x1="1529.6" y1="2012" x2="1605.5" y2="2012" stroke="#000" stroke-width="1.75" />
<line x1="1529.6" y1="2029.2" x2="1600.4" y2="2029.2" stroke="#000" stroke-width="1.75" />
<line x1="1529.6" y1="2046.4" x2="1595" y2="2046.4" stroke="#000" stroke-width="1.75" />
<line x1="1561" y1="2046.4" x2="1561" y2="1977.6" stroke="#000" stroke-width="1.4" />
<polyline points="1557,1990.6 1561,1977.6 1565,1990.6" fill="none" stroke="#000" stroke-width="1.4" />
<circle cx="1561" cy="2046.4" r="3" fill="none" stroke="#000" stroke-width="1.7" />
<line x1="1512.3" y1="2127" x2="1512.3" y2="2040" stroke="#000" stroke-width="1.75" />
<polyline points="1508,2054 1512.3,2040 1516.6,2054" fill="none" stroke="#000" stroke-width="1.75" />
<polyline points="1595.6,1275.6 1599.7,1288.4 1603.5,1301.3 1607.3,1314.1 1610.8,1327 1614.3,1339.8 1617.6,1352.6 1620.7,1365.5 1623.7,1378.3 1626.6,1391.2 1629.3,1404 1631.9,1416.8 1634.3,1429.7 1636.6,1442.5 1638.8,1455.4 1640.9,1468.2 1642.8,1481 1644.5,1493.9 1646.2,1506.7 1647.7,1519.6 1649,1532.4 1650.3,1545.2 1651.4,1558.1 1652.4,1570.9 1653.2,1583.8 1653.9,1596.6 1654.5,1609.4 1654.9,1622.3 1655.3,1635.1 1655.4,1648 1655.5,1660.8 1655.4,1673.6 1655.2,1686.5 1654.9,1699.3 1654.4,1712.2 1653.8,1725 1653.1,1737.8 1652.2,1750.7 1651.3,1763.5 1650.1,1776.4 1648.9,1789.2 1647.5,1802 1646,1814.9 1644.3,1827.7 1642.5,1840.6 1640.6,1853.4 1638.6,1866.2 1636.4,1879.1 1634,1891.9 1631.6,1904.8 1629,1917.6 1626.2,1930.4 1623.3,1943.3 1620.3,1956.1 1617.2,1969 1613.9,1981.8 1610.4,1994.6 1606.8,2007.5 1603.1,2020.3 1599.2,2033.2 1595.1,2046" fill="none" stroke="#000" stroke-width="2" />
<rect x="1741.6" y="798.6" width="43.4" height="301.1" fill="#fff" stroke="#000" stroke-width="1.7" />
<line x1="1741.6" y1="873.9" x2="1785" y2="873.9" stroke="#000" stroke-width="1.7" />
<line x1="1741.6" y1="949.2" x2="1785" y2="949.2" stroke="#000" stroke-width="1.7" />
<line x1="1741.6" y1="1024.5" x2="1785" y2="1024.5" stroke="#000" stroke-width="1.7" />
<rect x="1712" y="804" width="25" height="25" fill="#fff" stroke="#000" stroke-width="1.7" />
<rect x="1788" y="804" width="25" height="25" fill="#fff" stroke="#000" stroke-width="1.7" />
<rect x="1712" y="841.7" width="25" height="25" fill="#fff" stroke="#000" stroke-width="1.7" />
<rect x="1788" y="841.7" width="25" height="25" fill="#fff" stroke="#000" stroke-width="1.7" />
<rect x="1712" y="879.4" width="25" height="25" fill="#fff" stroke="#000" stroke-width="1.7" />
<rect x="1788" y="879.4" width="25" height="25" fill="#fff" stroke="#000" stroke-width="1.7" />
<rect x="1712" y="917.1" width="25" height="25" fill="#fff" stroke="#000" stroke-width="1.7" />
<rect x="1788" y="917.1" width="25" height="25" fill="#fff" stroke="#000" stroke-width="1.7" />
<rect x="1712" y="954.8" width="25" height="25" fill="#fff" stroke="#000" stroke-width="1.7" />
<rect x="1788" y="954.8" width="25" height="25" fill="#fff" stroke="#000" stroke-width="1.7" />
<rect x="1712" y="992.5" width="25" height="25" fill="#fff" stroke="#000" stroke-width="1.7" />
<rect x="1788" y="992.5" width="25" height="25" fill="#fff" stroke="#000" stroke-width="1.7" />
<rect x="1712" y="1030.2" width="25" height="25" fill="#fff" stroke="#000" stroke-width="1.7" />
<rect x="1788" y="1030.2" width="25" height="25" fill="#fff" stroke="#000" stroke-width="1.7" />
<rect x="1712" y="1067.9" width="25" height="25" fill="#fff" stroke="#000" stroke-width="1.7" />
<rect x="1788" y="1067.9" width="25" height="25" fill="#fff" stroke="#000" stroke-width="1.7" />
<rect x="1880.1" y="798.6" width="43.4" height="301.1" fill="#fff" stroke="#000" stroke-width="1.7" />
<line x1="1880.1" y1="873.9" x2="1923.5" y2="873.9" stroke="#000" stroke-width="1.7" />
<line x1="1880.1" y1="949.2" x2="1923.5" y2="949.2" stroke="#000" stroke-width="1.7" />
<line x1="1880.1" y1="1024.5" x2="1923.5" y2="1024.5" stroke="#000" stroke-width="1.7" />
<rect x="1850.5" y="804" width="25" height="25" fill="#fff" stroke="#000" stroke-width="1.7" />
<rect x="1926.5" y="804" width="25" height="25" fill="#fff" stroke="#000" stroke-width="1.7" />
<rect x="1850.5" y="841.7" width="25" height="25" fill="#fff" stroke="#000" stroke-width="1.7" />
<rect x="1926.5" y="841.7" width="25" height="25" fill="#fff" stroke="#000" stroke-width="1.7" />
<rect x="1850.5" y="879.4" width="25" height="25" fill="#fff" stroke="#000" stroke-width="1.7" />
<rect x="1926.5" y="879.4" width="25" height="25" fill="#fff" stroke="#000" stroke-width="1.7" />
<rect x="1850.5" y="917.1" width="25" height="25" fill="#fff" stroke="#000" stroke-width="1.7" />
<rect x="1926.5" y="917.1" width="25" height="25" fill="#fff" stroke="#000" stroke-width="1.7" />
<rect x="1850.5" y="954.8" width="25" height="25" fill="#fff" stroke="#000" stroke-width="1.7" />
<rect x="1926.5" y="954.8" width="25" height="25" fill="#fff" stroke="#000" stroke-width="1.7" />
<rect x="1850.5" y="992.5" width="25" height="25" fill="#fff" stroke="#000" stroke-width="1.7" />
<rect x="1926.5" y="992.5" width="25" height="25" fill="#fff" stroke="#000" stroke-width="1.7" />
<rect x="1850.5" y="1030.2" width="25" height="25" fill="#fff" stroke="#000" stroke-width="1.7" />
<rect x="1926.5" y="1030.2" width="25" height="25" fill="#fff" stroke="#000" stroke-width="1.7" />
<rect x="1850.5" y="1067.9" width="25" height="25" fill="#fff" stroke="#000" stroke-width="1.7" />
<rect x="1926.5" y="1067.9" width="25" height="25" fill="#fff" stroke="#000" stroke-width="1.7" />
<rect x="2018.6" y="798.6" width="43.4" height="301.1" fill="#fff" stroke="#000" stroke-width="1.7" />
<line x1="2018.6" y1="873.9" x2="2062" y2="873.9" stroke="#000" stroke-width="1.7" />
<line x1="2018.6" y1="949.2" x2="2062" y2="949.2" stroke="#000" stroke-width="1.7" />
<line x1="2018.6" y1="1024.5" x2="2062" y2="1024.5" stroke="#000" stroke-width="1.7" />
<rect x="1989" y="804" width="25" height="25" fill="#fff" stroke="#000" stroke-width="1.7" />
<rect x="2065" y="804" width="25" height="25" fill="#fff" stroke="#000" stroke-width="1.7" />
<rect x="1989" y="841.7" width="25" height="25" fill="#fff" stroke="#000" stroke-width="1.7" />
<rect x="2065" y="841.7" width="25" height="25" fill="#fff" stroke="#000" stroke-width="1.7" />
<rect x="1989" y="879.4" width="25" height="25" fill="#fff" stroke="#000" stroke-width="1.7" />
<rect x="2065" y="879.4" width="25" height="25" fill="#fff" stroke="#000" stroke-width="1.7" />
<rect x="1989" y="917.1" width="25" height="25" fill="#fff" stroke="#000" stroke-width="1.7" />
<rect x="2065" y="917.1" width="25" height="25" fill="#fff" stroke="#000" stroke-width="1.7" />
<rect x="1989" y="954.8" width="25" height="25" fill="#fff" stroke="#000" stroke-width="1.7" />
<rect x="2065" y="954.8" width="25" height="25" fill="#fff" stroke="#000" stroke-width="1.7" />
<rect x="1989" y="992.5" width="25" height="25" fill="#fff" stroke="#000" stroke-width="1.7" />
<rect x="2065" y="992.5" width="25" height="25" fill="#fff" stroke="#000" stroke-width="1.7" />
<rect x="1989" y="1030.2" width="25" height="25" fill="#fff" stroke="#000" stroke-width="1.7" />
<rect x="2065" y="1030.2" width="25" height="25" fill="#fff" stroke="#000" stroke-width="1.7" />
<rect x="1989" y="1067.9" width="25" height="25" fill="#fff" stroke="#000" stroke-width="1.7" />
<rect x="2065" y="1067.9" width="25" height="25" fill="#fff" stroke="#000" stroke-width="1.7" />
<rect x="2157.1" y="798.6" width="43.4" height="301.1" fill="#fff" stroke="#000" stroke-width="1.7" />
<line x1="2157.1" y1="873.9" x2="2200.5" y2="873.9" stroke="#000" stroke-width="1.7" />
<line x1="2157.1" y1="949.2" x2="2200.5" y2="949.2" stroke="#000" stroke-width="1.7" />
<line x1="2157.1" y1="1024.5" x2="2200.5" y2="1024.5" stroke="#000" stroke-width="1.7" />
<rect x="2127.5" y="804" width="25" height="25" fill="#fff" stroke="#000" stroke-width="1.7" />
<rect x="2203.5" y="804" width="25" height="25" fill="#fff" stroke="#000" stroke-width="1.7" />
<rect x="2127.5" y="841.7" width="25" height="25" fill="#fff" stroke="#000" stroke-width="1.7" />
<rect x="2203.5" y="841.7" width="25" height="25" fill="#fff" stroke="#000" stroke-width="1.7" />
<rect x="2127.5" y="879.4" width="25" height="25" fill="#fff" stroke="#000" stroke-width="1.7" />
<rect x="2203.5" y="879.4" width="25" height="25" fill="#fff" stroke="#000" stroke-width="1.7" />
<rect x="2127.5" y="917.1" width="25" height="25" fill="#fff" stroke="#000" stroke-width="1.7" />
<rect x="2203.5" y="917.1" width="25" height="25" fill="#fff" stroke="#000" stroke-width="1.7" />
<rect x="2127.5" y="954.8" width="25" height="25" fill="#fff" stroke="#000" stroke-width="1.7" />
<rect x="2203.5" y="954.8" width="25" height="25" fill="#fff" stroke="#000" stroke-width="1.7" />
<rect x="2127.5" y="992.5" width="25" height="25" fill="#fff" stroke="#000" stroke-width="1.7" />
<rect x="2203.5" y="992.5" width="25" height="25" fill="#fff" stroke="#000" stroke-width="1.7" />
<rect x="2127.5" y="1030.2" width="25" height="25" fill="#fff" stroke="#000" stroke-width="1.7" />
<rect x="2203.5" y="1030.2" width="25" height="25" fill="#fff" stroke="#000" stroke-width="1.7" />
<rect x="2127.5" y="1067.9" width="25" height="25" fill="#fff" stroke="#000" stroke-width="1.7" />
<rect x="2203.5" y="1067.9" width="25" height="25" fill="#fff" stroke="#000" stroke-width="1.7" />
<rect x="2295.6" y="798.6" width="43.4" height="301.1" fill="#fff" stroke="#000" stroke-width="1.7" />
<line x1="2295.6" y1="873.9" x2="2339" y2="873.9" stroke="#000" stroke-width="1.7" />
<line x1="2295.6" y1="949.2" x2="2339" y2="949.2" stroke="#000" stroke-width="1.7" />
<line x1="2295.6" y1="1024.5" x2="2339" y2="1024.5" stroke="#000" stroke-width="1.7" />
<rect x="2266" y="804" width="25" height="25" fill="#fff" stroke="#000" stroke-width="1.7" />
<rect x="2342" y="804" width="25" height="25" fill="#fff" stroke="#000" stroke-width="1.7" />
<rect x="2266" y="841.7" width="25" height="25" fill="#fff" stroke="#000" stroke-width="1.7" />
<rect x="2342" y="841.7" width="25" height="25" fill="#fff" stroke="#000" stroke-width="1.7" />
<rect x="2266" y="879.4" width="25" height="25" fill="#fff" stroke="#000" stroke-width="1.7" />
<rect x="2342" y="879.4" width="25" height="25" fill="#fff" stroke="#000" stroke-width="1.7" />
<rect x="2266" y="917.1" width="25" height="25" fill="#fff" stroke="#000" stroke-width="1.7" />
<rect x="2342" y="917.1" width="25" height="25" fill="#fff" stroke="#000" stroke-width="1.7" />
<rect x="2266" y="954.8" width="25" height="25" fill="#fff" stroke="#000" stroke-width="1.7" />
<rect x="2342" y="954.8" width="25" height="25" fill="#fff" stroke="#000" stroke-width="1.7" />
<rect x="2266" y="992.5" width="25" height="25" fill="#fff" stroke="#000" stroke-width="1.7" />
<rect x="2342" y="992.5" width="25" height="25" fill="#fff" stroke="#000" stroke-width="1.7" />
<rect x="2266" y="1030.2" width="25" height="25" fill="#fff" stroke="#000" stroke-width="1.7" />
<rect x="2342" y="1030.2" width="25" height="25" fill="#fff" stroke="#000" stroke-width="1.7" />
<rect x="2266" y="1067.9" width="25" height="25" fill="#fff" stroke="#000" stroke-width="1.7" />
<rect x="2342" y="1067.9" width="25" height="25" fill="#fff" stroke="#000" stroke-width="1.7" />
<path d="M1679,1206.2 L1709.2,1199 L1753.1,1383.5 L1722.9,1390.6 Z M1686.3,1236.9 L1716.5,1229.8 M1693.6,1267.7 L1723.8,1260.5 M1701,1298.4 L1731.1,1291.2 M1708.3,1329.2 L1738.4,1322 M1715.6,1359.9 L1745.8,1352.7" fill="#fff" stroke="#000" stroke-width="1.5"/>
<text transform="translate(1697.7,1218) rotate(-103.4)" font-size="20" text-anchor="middle" dominant-baseline="central">6</text>
<text transform="translate(1734.4,1371.7) rotate(-103.4)" font-size="20" text-anchor="middle" dominant-baseline="central">1</text>
<path d="M1743.9,1206.2 L1774.1,1199 L1818,1383.5 L1787.8,1390.6 Z M1751.2,1236.9 L1781.4,1229.8 M1758.5,1267.7 L1788.7,1260.5 M1765.9,1298.4 L1796,1291.2 M1773.2,1329.2 L1803.3,1322 M1780.5,1359.9 L1810.7,1352.7" fill="#fff" stroke="#000" stroke-width="1.5"/>
<path d="M1808.8,1206.2 L1839,1199 L1882.9,1383.5 L1852.7,1390.6 Z M1816.1,1236.9 L1846.3,1229.8 M1823.4,1267.7 L1853.6,1260.5 M1830.8,1298.4 L1860.9,1291.2 M1838.1,1329.2 L1868.2,1322 M1845.4,1359.9 L1875.6,1352.7" fill="#fff" stroke="#000" stroke-width="1.5"/>
<path d="M1873.7,1206.2 L1903.9,1199 L1947.8,1383.5 L1917.6,1390.6 Z M1881,1236.9 L1911.2,1229.8 M1888.3,1267.7 L1918.5,1260.5 M1895.7,1298.4 L1925.8,1291.2 M1903,1329.2 L1933.1,1322 M1910.3,1359.9 L1940.5,1352.7" fill="#fff" stroke="#000" stroke-width="1.5"/>
<path d="M1938.6,1206.2 L1968.8,1199 L2012.7,1383.5 L1982.5,1390.6 Z M1945.9,1236.9 L1976.1,1229.8 M1953.2,1267.7 L1983.4,1260.5 M1960.6,1298.4 L1990.7,1291.2 M1967.9,1329.2 L1998,1322 M1975.2,1359.9 L2005.4,1352.7" fill="#fff" stroke="#000" stroke-width="1.5"/>
<path d="M2003.5,1206.2 L2033.7,1199 L2077.6,1383.5 L2047.4,1390.6 Z M2010.8,1236.9 L2041,1229.8 M2018.1,1267.7 L2048.3,1260.5 M2025.5,1298.4 L2055.6,1291.2 M2032.8,1329.2 L2062.9,1322 M2040.1,1359.9 L2070.3,1352.7" fill="#fff" stroke="#000" stroke-width="1.5"/>
<path d="M2068.4,1206.2 L2098.6,1199 L2142.5,1383.5 L2112.3,1390.6 Z M2075.7,1236.9 L2105.9,1229.8 M2083,1267.7 L2113.2,1260.5 M2090.4,1298.4 L2120.5,1291.2 M2097.7,1329.2 L2127.8,1322 M2105,1359.9 L2135.2,1352.7" fill="#fff" stroke="#000" stroke-width="1.5"/>
<path d="M2133.3,1206.2 L2163.5,1199 L2207.4,1383.5 L2177.2,1390.6 Z M2140.6,1236.9 L2170.8,1229.8 M2147.9,1267.7 L2178.1,1260.5 M2155.3,1298.4 L2185.4,1291.2 M2162.6,1329.2 L2192.7,1322 M2169.9,1359.9 L2200.1,1352.7" fill="#fff" stroke="#000" stroke-width="1.5"/>
<path d="M2198.2,1206.2 L2228.4,1199 L2272.3,1383.5 L2242.1,1390.6 Z M2205.5,1236.9 L2235.7,1229.8 M2212.8,1267.7 L2243,1260.5 M2220.2,1298.4 L2250.3,1291.2 M2227.5,1329.2 L2257.6,1322 M2234.8,1359.9 L2265,1352.7" fill="#fff" stroke="#000" stroke-width="1.5"/>
<path d="M2263.1,1206.2 L2293.3,1199 L2337.2,1383.5 L2307,1390.6 Z M2270.4,1236.9 L2300.6,1229.8 M2277.7,1267.7 L2307.9,1260.5 M2285.1,1298.4 L2315.2,1291.2 M2292.4,1329.2 L2322.5,1322 M2299.7,1359.9 L2329.9,1352.7" fill="#fff" stroke="#000" stroke-width="1.5"/>
<path d="M2328,1206.2 L2358.2,1199 L2402.1,1383.5 L2371.9,1390.6 Z M2335.3,1236.9 L2365.5,1229.8 M2342.6,1267.7 L2372.8,1260.5 M2350,1298.4 L2380.1,1291.2 M2357.3,1329.2 L2387.4,1322 M2364.6,1359.9 L2394.8,1352.7" fill="#fff" stroke="#000" stroke-width="1.5"/>
<path d="M2392.9,1206.2 L2423.1,1199 L2467,1383.5 L2436.8,1390.6 Z M2400.2,1236.9 L2430.4,1229.8 M2407.5,1267.7 L2437.7,1260.5 M2414.9,1298.4 L2445,1291.2 M2422.2,1329.2 L2452.3,1322 M2429.5,1359.9 L2459.7,1352.7" fill="#fff" stroke="#000" stroke-width="1.5"/>
<text transform="translate(2411.6,1218) rotate(-103.4)" font-size="20" text-anchor="middle" dominant-baseline="central">6</text>
<text transform="translate(2448.3,1371.7) rotate(-103.4)" font-size="20" text-anchor="middle" dominant-baseline="central">1</text>
<path d="M2457.8,1206.2 L2488,1199 L2531.9,1383.5 L2501.7,1390.6 Z M2465.1,1236.9 L2495.3,1229.8 M2472.4,1267.7 L2502.6,1260.5 M2479.8,1298.4 L2509.9,1291.2 M2487.1,1329.2 L2517.2,1322 M2494.4,1359.9 L2524.6,1352.7" fill="#fff" stroke="#000" stroke-width="1.5"/>
<text transform="translate(2476.5,1218) rotate(-103.4)" font-size="20" text-anchor="middle" dominant-baseline="central">6</text>
<text transform="translate(2513.2,1371.7) rotate(-103.4)" font-size="20" text-anchor="middle" dominant-baseline="central">1</text>
<path d="M2530,1236.9 L2560.2,1229.8 L2596.8,1383.5 L2566.6,1390.6 Z M2537.3,1267.7 L2567.5,1260.5 M2544.7,1298.4 L2574.8,1291.2 M2552,1329.2 L2582.1,1322 M2559.3,1359.9 L2589.5,1352.7" fill="#fff" stroke="#000" stroke-width="1.5"/>
<text transform="translate(2548.8,1248.7) rotate(-103.4)" font-size="20" text-anchor="middle" dominant-baseline="central">5</text>
<text transform="translate(2578.1,1371.7) rotate(-103.4)" font-size="20" text-anchor="middle" dominant-baseline="central">1</text>
<path d="M1733.5,1472.7 L1764.8,1472.7 L1764.8,1850.9 L1733.5,1850.9 Z M1733.5,1504.2 L1764.8,1504.2 M1733.5,1535.7 L1764.8,1535.7 M1733.5,1567.3 L1764.8,1567.3 M1733.5,1598.8 L1764.8,1598.8 M1733.5,1630.3 L1764.8,1630.3 M1733.5,1661.8 L1764.8,1661.8 M1733.5,1693.3 L1764.8,1693.3 M1733.5,1724.9 L1764.8,1724.9 M1733.5,1756.4 L1764.8,1756.4 M1733.5,1787.9 L1764.8,1787.9 M1733.5,1819.4 L1764.8,1819.4" fill="#fff" stroke="#000" stroke-width="1.5"/>
<text transform="translate(1749.1,1488.5) rotate(-90)" font-size="20" text-anchor="middle" dominant-baseline="central">1</text>
<text transform="translate(1749.1,1835.1) rotate(-90)" font-size="20" text-anchor="middle" dominant-baseline="central">12</text>
<path d="M1796.5,1472.7 L1827.8,1472.7 L1827.8,1850.9 L1796.5,1850.9 Z M1796.5,1504.2 L1827.8,1504.2 M1796.5,1535.7 L1827.8,1535.7 M1796.5,1567.3 L1827.8,1567.3 M1796.5,1598.8 L1827.8,1598.8 M1796.5,1630.3 L1827.8,1630.3 M1796.5,1661.8 L1827.8,1661.8 M1796.5,1693.3 L1827.8,1693.3 M1796.5,1724.9 L1827.8,1724.9 M1796.5,1756.4 L1827.8,1756.4 M1796.5,1787.9 L1827.8,1787.9 M1796.5,1819.4 L1827.8,1819.4" fill="#fff" stroke="#000" stroke-width="1.5"/>
<path d="M1859.5,1472.7 L1890.8,1472.7 L1890.8,1850.9 L1859.5,1850.9 Z M1859.5,1504.2 L1890.8,1504.2 M1859.5,1535.7 L1890.8,1535.7 M1859.5,1567.3 L1890.8,1567.3 M1859.5,1598.8 L1890.8,1598.8 M1859.5,1630.3 L1890.8,1630.3 M1859.5,1661.8 L1890.8,1661.8 M1859.5,1693.3 L1890.8,1693.3 M1859.5,1724.9 L1890.8,1724.9 M1859.5,1756.4 L1890.8,1756.4 M1859.5,1787.9 L1890.8,1787.9 M1859.5,1819.4 L1890.8,1819.4" fill="#fff" stroke="#000" stroke-width="1.5"/>
<path d="M1922.5,1472.7 L1953.8,1472.7 L1953.8,1850.9 L1922.5,1850.9 Z M1922.5,1504.2 L1953.8,1504.2 M1922.5,1535.7 L1953.8,1535.7 M1922.5,1567.3 L1953.8,1567.3 M1922.5,1598.8 L1953.8,1598.8 M1922.5,1630.3 L1953.8,1630.3 M1922.5,1661.8 L1953.8,1661.8 M1922.5,1693.3 L1953.8,1693.3 M1922.5,1724.9 L1953.8,1724.9 M1922.5,1756.4 L1953.8,1756.4 M1922.5,1787.9 L1953.8,1787.9 M1922.5,1819.4 L1953.8,1819.4" fill="#fff" stroke="#000" stroke-width="1.5"/>
<path d="M1985.5,1472.7 L2016.8,1472.7 L2016.8,1850.9 L1985.5,1850.9 Z M1985.5,1504.2 L2016.8,1504.2 M1985.5,1535.7 L2016.8,1535.7 M1985.5,1567.3 L2016.8,1567.3 M1985.5,1598.8 L2016.8,1598.8 M1985.5,1630.3 L2016.8,1630.3 M1985.5,1661.8 L2016.8,1661.8 M1985.5,1693.3 L2016.8,1693.3 M1985.5,1724.9 L2016.8,1724.9 M1985.5,1756.4 L2016.8,1756.4 M1985.5,1787.9 L2016.8,1787.9 M1985.5,1819.4 L2016.8,1819.4" fill="#fff" stroke="#000" stroke-width="1.5"/>
<path d="M2048.5,1472.7 L2079.8,1472.7 L2079.8,1850.9 L2048.5,1850.9 Z M2048.5,1504.2 L2079.8,1504.2 M2048.5,1535.7 L2079.8,1535.7 M2048.5,1567.3 L2079.8,1567.3 M2048.5,1598.8 L2079.8,1598.8 M2048.5,1630.3 L2079.8,1630.3 M2048.5,1661.8 L2079.8,1661.8 M2048.5,1693.3 L2079.8,1693.3 M2048.5,1724.9 L2079.8,1724.9 M2048.5,1756.4 L2079.8,1756.4 M2048.5,1787.9 L2079.8,1787.9 M2048.5,1819.4 L2079.8,1819.4" fill="#fff" stroke="#000" stroke-width="1.5"/>
<path d="M2111.5,1472.7 L2142.8,1472.7 L2142.8,1850.9 L2111.5,1850.9 Z M2111.5,1504.2 L2142.8,1504.2 M2111.5,1535.7 L2142.8,1535.7 M2111.5,1567.3 L2142.8,1567.3 M2111.5,1598.8 L2142.8,1598.8 M2111.5,1630.3 L2142.8,1630.3 M2111.5,1661.8 L2142.8,1661.8 M2111.5,1693.3 L2142.8,1693.3 M2111.5,1724.9 L2142.8,1724.9 M2111.5,1756.4 L2142.8,1756.4 M2111.5,1787.9 L2142.8,1787.9 M2111.5,1819.4 L2142.8,1819.4" fill="#fff" stroke="#000" stroke-width="1.5"/>
<path d="M2174.5,1472.7 L2205.8,1472.7 L2205.8,1850.9 L2174.5,1850.9 Z M2174.5,1504.2 L2205.8,1504.2 M2174.5,1535.7 L2205.8,1535.7 M2174.5,1567.3 L2205.8,1567.3 M2174.5,1598.8 L2205.8,1598.8 M2174.5,1630.3 L2205.8,1630.3 M2174.5,1661.8 L2205.8,1661.8 M2174.5,1693.3 L2205.8,1693.3 M2174.5,1724.9 L2205.8,1724.9 M2174.5,1756.4 L2205.8,1756.4 M2174.5,1787.9 L2205.8,1787.9 M2174.5,1819.4 L2205.8,1819.4" fill="#fff" stroke="#000" stroke-width="1.5"/>
<path d="M2237.5,1472.7 L2268.8,1472.7 L2268.8,1850.9 L2237.5,1850.9 Z M2237.5,1504.2 L2268.8,1504.2 M2237.5,1535.7 L2268.8,1535.7 M2237.5,1567.3 L2268.8,1567.3 M2237.5,1598.8 L2268.8,1598.8 M2237.5,1630.3 L2268.8,1630.3 M2237.5,1661.8 L2268.8,1661.8 M2237.5,1693.3 L2268.8,1693.3 M2237.5,1724.9 L2268.8,1724.9 M2237.5,1756.4 L2268.8,1756.4 M2237.5,1787.9 L2268.8,1787.9 M2237.5,1819.4 L2268.8,1819.4" fill="#fff" stroke="#000" stroke-width="1.5"/>
<path d="M2300.5,1472.7 L2331.8,1472.7 L2331.8,1850.9 L2300.5,1850.9 Z M2300.5,1504.2 L2331.8,1504.2 M2300.5,1535.7 L2331.8,1535.7 M2300.5,1567.3 L2331.8,1567.3 M2300.5,1598.8 L2331.8,1598.8 M2300.5,1630.3 L2331.8,1630.3 M2300.5,1661.8 L2331.8,1661.8 M2300.5,1693.3 L2331.8,1693.3 M2300.5,1724.9 L2331.8,1724.9 M2300.5,1756.4 L2331.8,1756.4 M2300.5,1787.9 L2331.8,1787.9 M2300.5,1819.4 L2331.8,1819.4" fill="#fff" stroke="#000" stroke-width="1.5"/>
<path d="M2363.5,1472.7 L2394.8,1472.7 L2394.8,1850.9 L2363.5,1850.9 Z M2363.5,1504.2 L2394.8,1504.2 M2363.5,1535.7 L2394.8,1535.7 M2363.5,1567.3 L2394.8,1567.3 M2363.5,1598.8 L2394.8,1598.8 M2363.5,1630.3 L2394.8,1630.3 M2363.5,1661.8 L2394.8,1661.8 M2363.5,1693.3 L2394.8,1693.3 M2363.5,1724.9 L2394.8,1724.9 M2363.5,1756.4 L2394.8,1756.4 M2363.5,1787.9 L2394.8,1787.9 M2363.5,1819.4 L2394.8,1819.4" fill="#fff" stroke="#000" stroke-width="1.5"/>
<path d="M2426.5,1472.7 L2457.8,1472.7 L2457.8,1850.9 L2426.5,1850.9 Z M2426.5,1504.2 L2457.8,1504.2 M2426.5,1535.7 L2457.8,1535.7 M2426.5,1567.3 L2457.8,1567.3 M2426.5,1598.8 L2457.8,1598.8 M2426.5,1630.3 L2457.8,1630.3 M2426.5,1661.8 L2457.8,1661.8 M2426.5,1693.3 L2457.8,1693.3 M2426.5,1724.9 L2457.8,1724.9 M2426.5,1756.4 L2457.8,1756.4 M2426.5,1787.9 L2457.8,1787.9 M2426.5,1819.4 L2457.8,1819.4" fill="#fff" stroke="#000" stroke-width="1.5"/>
<text transform="translate(2442.1,1488.5) rotate(-90)" font-size="20" text-anchor="middle" dominant-baseline="central">1</text>
<text transform="translate(2442.1,1835.1) rotate(-90)" font-size="20" text-anchor="middle" dominant-baseline="central">12</text>
<path d="M2490,1488 L2521.5,1488 L2521.5,1645 L2490,1645 Z M2490,1519.4 L2521.5,1519.4 M2490,1550.8 L2521.5,1550.8 M2490,1582.2 L2521.5,1582.2 M2490,1613.6 L2521.5,1613.6" fill="#fff" stroke="#000" stroke-width="1.5"/>
<path d="M2490,1677 L2521.5,1677 L2521.5,1835 L2490,1835 Z M2490,1708.6 L2521.5,1708.6 M2490,1740.2 L2521.5,1740.2 M2490,1771.8 L2521.5,1771.8 M2490,1803.4 L2521.5,1803.4" fill="#fff" stroke="#000" stroke-width="1.5"/>
<text transform="translate(2505.7,1503.7) rotate(-90)" font-size="20" text-anchor="middle" dominant-baseline="central">1</text>
<text transform="translate(2505.7,1819.2) rotate(-90)" font-size="20" text-anchor="middle" dominant-baseline="central">10</text>
<path d="M2553,1488 L2584.5,1488 L2584.5,1645 L2553,1645 Z M2553,1519.4 L2584.5,1519.4 M2553,1550.8 L2584.5,1550.8 M2553,1582.2 L2584.5,1582.2 M2553,1613.6 L2584.5,1613.6" fill="#fff" stroke="#000" stroke-width="1.5"/>
<path d="M2553,1677 L2584.5,1677 L2584.5,1835 L2553,1835 Z M2553,1708.6 L2584.5,1708.6 M2553,1740.2 L2584.5,1740.2 M2553,1771.8 L2584.5,1771.8 M2553,1803.4 L2584.5,1803.4" fill="#fff" stroke="#000" stroke-width="1.5"/>
<text transform="translate(2568.7,1503.7) rotate(-90)" font-size="20" text-anchor="middle" dominant-baseline="central">1</text>
<text transform="translate(2568.7,1819.2) rotate(-90)" font-size="20" text-anchor="middle" dominant-baseline="central">10</text>
<path d="M1723.6,1933.6 L1753.8,1940.8 L1709.8,2125.2 L1679.7,2118 Z M1716.3,1964.3 L1746.4,1971.5 M1709,1995.1 L1739.1,2002.3 M1701.6,2025.8 L1731.8,2033 M1694.3,2056.6 L1724.5,2063.7 M1687,2087.3 L1717.1,2094.5" fill="#fff" stroke="#000" stroke-width="1.5"/>
<text transform="translate(1735,1952.6) rotate(-76.6)" font-size="20" text-anchor="middle" dominant-baseline="central">13</text>
<text transform="translate(1698.4,2106.3) rotate(-76.6)" font-size="20" text-anchor="middle" dominant-baseline="central">18</text>
<path d="M1788.5,1933.6 L1818.7,1940.8 L1774.8,2125.2 L1744.6,2118 Z M1781.2,1964.3 L1811.4,1971.5 M1773.9,1995.1 L1804.1,2002.3 M1766.6,2025.8 L1796.7,2033 M1759.3,2056.6 L1789.4,2063.7 M1751.9,2087.3 L1782.1,2094.5" fill="#fff" stroke="#000" stroke-width="1.5"/>
<path d="M1853.5,1933.6 L1883.7,1940.8 L1839.7,2125.2 L1809.6,2118 Z M1846.2,1964.3 L1876.3,1971.5 M1838.9,1995.1 L1869,2002.3 M1831.5,2025.8 L1861.7,2033 M1824.2,2056.6 L1854.4,2063.7 M1816.9,2087.3 L1847,2094.5" fill="#fff" stroke="#000" stroke-width="1.5"/>
<path d="M1918.4,1933.6 L1948.6,1940.8 L1904.7,2125.2 L1874.5,2118 Z M1911.1,1964.3 L1941.3,1971.5 M1903.8,1995.1 L1934,2002.3 M1896.5,2025.8 L1926.6,2033 M1889.2,2056.6 L1919.3,2063.7 M1881.8,2087.3 L1912,2094.5" fill="#fff" stroke="#000" stroke-width="1.5"/>
<path d="M1983.4,1933.6 L2013.6,1940.8 L1969.6,2125.2 L1939.5,2118 Z M1976.1,1964.3 L2006.2,1971.5 M1968.8,1995.1 L1998.9,2002.3 M1961.4,2025.8 L1991.6,2033 M1954.1,2056.6 L1984.3,2063.7 M1946.8,2087.3 L1976.9,2094.5" fill="#fff" stroke="#000" stroke-width="1.5"/>
<path d="M2048.3,1933.6 L2078.5,1940.8 L2034.6,2125.2 L2004.4,2118 Z M2041,1964.3 L2071.2,1971.5 M2033.7,1995.1 L2063.9,2002.3 M2026.4,2025.8 L2056.5,2033 M2019.1,2056.6 L2049.2,2063.7 M2011.7,2087.3 L2041.9,2094.5" fill="#fff" stroke="#000" stroke-width="1.5"/>
<path d="M2113.3,1933.6 L2143.5,1940.8 L2099.5,2125.2 L2069.4,2118 Z M2106,1964.3 L2136.1,1971.5 M2098.7,1995.1 L2128.8,2002.3 M2091.3,2025.8 L2121.5,2033 M2084,2056.6 L2114.2,2063.7 M2076.7,2087.3 L2106.8,2094.5" fill="#fff" stroke="#000" stroke-width="1.5"/>
<path d="M2178.2,1933.6 L2208.4,1940.8 L2164.5,2125.2 L2134.3,2118 Z M2170.9,1964.3 L2201.1,1971.5 M2163.6,1995.1 L2193.8,2002.3 M2156.3,2025.8 L2186.4,2033 M2149,2056.6 L2179.1,2063.7 M2141.6,2087.3 L2171.8,2094.5" fill="#fff" stroke="#000" stroke-width="1.5"/>
<path d="M2243.2,1933.6 L2273.4,1940.8 L2229.4,2125.2 L2199.3,2118 Z M2235.9,1964.3 L2266,1971.5 M2228.6,1995.1 L2258.7,2002.3 M2221.2,2025.8 L2251.4,2033 M2213.9,2056.6 L2244.1,2063.7 M2206.6,2087.3 L2236.7,2094.5" fill="#fff" stroke="#000" stroke-width="1.5"/>
<path d="M2308.2,1933.6 L2338.3,1940.8 L2294.4,2125.2 L2264.2,2118 Z M2300.8,1964.3 L2331,1971.5 M2293.5,1995.1 L2323.7,2002.3 M2286.2,2025.8 L2316.3,2033 M2278.9,2056.6 L2309,2063.7 M2271.5,2087.3 L2301.7,2094.5" fill="#fff" stroke="#000" stroke-width="1.5"/>
<path d="M2373.1,1933.6 L2403.3,1940.8 L2359.3,2125.2 L2329.2,2118 Z M2365.8,1964.3 L2395.9,1971.5 M2358.5,1995.1 L2388.6,2002.3 M2351.1,2025.8 L2381.3,2033 M2343.8,2056.6 L2374,2063.7 M2336.5,2087.3 L2366.6,2094.5" fill="#fff" stroke="#000" stroke-width="1.5"/>
<path d="M2438.1,1933.6 L2468.2,1940.8 L2424.3,2125.2 L2394.1,2118 Z M2430.7,1964.3 L2460.9,1971.5 M2423.4,1995.1 L2453.6,2002.3 M2416.1,2025.8 L2446.2,2033 M2408.8,2056.6 L2438.9,2063.7 M2401.4,2087.3 L2431.6,2094.5" fill="#fff" stroke="#000" stroke-width="1.5"/>
<text transform="translate(2449.5,1952.6) rotate(-76.6)" font-size="20" text-anchor="middle" dominant-baseline="central">13</text>
<text transform="translate(2412.9,2106.3) rotate(-76.6)" font-size="20" text-anchor="middle" dominant-baseline="central">18</text>
<path d="M2503,1933.6 L2533.2,1940.8 L2489.2,2125.2 L2459.1,2118 Z M2495.7,1964.3 L2525.8,1971.5 M2488.4,1995.1 L2518.5,2002.3 M2481,2025.8 L2511.2,2033 M2473.7,2056.6 L2503.9,2063.7 M2466.4,2087.3 L2496.5,2094.5" fill="#fff" stroke="#000" stroke-width="1.5"/>
<text transform="translate(2514.4,1952.6) rotate(-76.6)" font-size="20" text-anchor="middle" dominant-baseline="central">11</text>
<text transform="translate(2477.8,2106.3) rotate(-76.6)" font-size="20" text-anchor="middle" dominant-baseline="central">16</text>
<path d="M2567.9,1933.6 L2598.1,1940.8 L2561.5,2094.5 L2531.3,2087.3 Z M2560.6,1964.3 L2590.8,1971.5 M2553.3,1995.1 L2583.5,2002.3 M2546,2025.8 L2576.1,2033 M2538.7,2056.6 L2568.8,2063.7" fill="#fff" stroke="#000" stroke-width="1.5"/>
<text transform="translate(2579.4,1952.6) rotate(-76.6)" font-size="20" text-anchor="middle" dominant-baseline="central">11</text>
<text transform="translate(2550.1,2075.5) rotate(-76.6)" font-size="20" text-anchor="middle" dominant-baseline="central">15</text>
<line x1="1694" y1="1100" x2="1694" y2="1199.4" stroke="#000" stroke-width="1.6" />
<line x1="1678" y1="1111" x2="1710.5" y2="1111" stroke="#000" stroke-width="2.2" />
<line x1="1689" y1="1106" x2="1699" y2="1116" stroke="#000" stroke-width="2.2" />
<line x1="1678" y1="1188.4" x2="1710.5" y2="1188.4" stroke="#000" stroke-width="2.2" />
<line x1="1689" y1="1183.4" x2="1699" y2="1193.4" stroke="#000" stroke-width="2.2" />
<text transform="translate(1690.6,1149.7) rotate(-90)" font-size="21" text-anchor="middle" textLength="32.5" lengthAdjust="spacingAndGlyphs">1.20</text>
<line x1="1694" y1="1382.9" x2="1694" y2="1479.8" stroke="#000" stroke-width="1.6" />
<line x1="1678" y1="1393.9" x2="1710.5" y2="1393.9" stroke="#000" stroke-width="2.2" />
<line x1="1689" y1="1388.9" x2="1699" y2="1398.9" stroke="#000" stroke-width="2.2" />
<line x1="1678" y1="1468.8" x2="1710.5" y2="1468.8" stroke="#000" stroke-width="2.2" />
<line x1="1689" y1="1463.8" x2="1699" y2="1473.8" stroke="#000" stroke-width="2.2" />
<text transform="translate(1690.6,1430.7) rotate(-90)" font-size="21" text-anchor="middle" textLength="32.5" lengthAdjust="spacingAndGlyphs">1.20</text>
<line x1="1694" y1="1841.8" x2="1694" y2="1941.2" stroke="#000" stroke-width="1.6" />
<line x1="1678" y1="1852.8" x2="1710.5" y2="1852.8" stroke="#000" stroke-width="2.2" />
<line x1="1689" y1="1847.8" x2="1699" y2="1857.8" stroke="#000" stroke-width="2.2" />
<line x1="1678" y1="1930.2" x2="1710.5" y2="1930.2" stroke="#000" stroke-width="2.2" />
<line x1="1689" y1="1925.2" x2="1699" y2="1935.2" stroke="#000" stroke-width="2.2" />
<text transform="translate(1690.6,1891.5) rotate(-90)" font-size="21" text-anchor="middle" textLength="32.5" lengthAdjust="spacingAndGlyphs">1.20</text>
<line x1="1775" y1="763.9" x2="1889.7" y2="763.9" stroke="#000" stroke-width="2" />
<line x1="1784.9" y1="748.2" x2="1784.9" y2="780.8" stroke="#000" stroke-width="2" />
<line x1="1779.9" y1="769" x2="1790.4" y2="759.4" stroke="#000" stroke-width="2.2" />
<line x1="1880" y1="748.2" x2="1880" y2="780.8" stroke="#000" stroke-width="2" />
<line x1="1875" y1="769" x2="1885.5" y2="759.4" stroke="#000" stroke-width="2.2" />
<text x="1816.9" y="761" font-size="22" text-anchor="start" font-weight="normal" fill="#000" textLength="32" lengthAdjust="spacingAndGlyphs" >1.50</text>
<path d="M2624,1380 L2686.7,1373.4 A63,63 0 0 1 2630.6,1442.7" fill="none" stroke="#000" stroke-width="1.6"/>
<path d="M2636,1503 L2699.6,1496.3 A64,64 0 0 0 2629.3,1439.4" fill="none" stroke="#000" stroke-width="1.6"/>
<path d="M2630,1821 L2692.7,1827.6 A63,63 0 0 1 2623.4,1883.7" fill="none" stroke="#000" stroke-width="1.6"/>
<path d="M2621,1943 L2683.7,1949.6 A63,63 0 0 0 2621,1880" fill="none" stroke="#000" stroke-width="1.6"/>
<path d="M2520,1043.9 L2583.7,1043.9 A63.7,63.7 0 0 1 2520,1107.6" fill="none" stroke="#000" stroke-width="1.6"/>
<path d="M2520,1170.4 L2583.7,1170.4 A63.7,63.7 0 0 0 2520,1106.7" fill="none" stroke="#000" stroke-width="1.6"/>
<path d="M2520.5,2153.4 L2584.1,2153.4 A63.6,63.6 0 0 1 2520.5,2217" fill="none" stroke="#000" stroke-width="1.6"/>
<path d="M2520.5,2279.8 L2583.7,2279.8 A63.2,63.2 0 0 0 2520.5,2216.6" fill="none" stroke="#000" stroke-width="1.6"/>
<path d="M1576,2153.6 L1513.4,2153.6 A62.6,62.6 0 0 0 1576,2216.2" fill="none" stroke="#000" stroke-width="1.6"/>
<path d="M1576,2278.3 L1513.4,2278.3 A62.6,62.6 0 0 1 1576,2215.7" fill="none" stroke="#000" stroke-width="1.6"/>
<path d="M1410,2600 L1347,2600 A63,63 0 0 1 1410,2537" fill="none" stroke="#000" stroke-width="1.6"/>
<line x1="2046" y1="2140" x2="2046" y2="2230.6" stroke="#000" stroke-width="1.75" />
<line x1="2050.5" y1="2140" x2="2050.5" y2="2230.6" stroke="#000" stroke-width="1.75" />
<line x1="2046" y1="2300.8" x2="2046" y2="2608" stroke="#000" stroke-width="1.75" />
<line x1="2050.5" y1="2300.8" x2="2050.5" y2="2608" stroke="#000" stroke-width="1.75" />
<line x1="2046" y1="2380" x2="2050.5" y2="2380" stroke="#000" stroke-width="1.2" />
<line x1="2046" y1="2450" x2="2050.5" y2="2450" stroke="#000" stroke-width="1.2" />
<line x1="2046" y1="2520" x2="2050.5" y2="2520" stroke="#000" stroke-width="1.2" />
<path d="M2048,2230.6 L1976,2230.6 A72,72 0 0 0 2048,2302.6" fill="none" stroke="#000" stroke-width="1.6"/>
<path d="M2142.3,1188 L2142.3,1118.5 A69.5,69.5 0 0 1 2211.8,1188" fill="none" stroke="#000" stroke-width="1.6" stroke-dasharray="7,5"/>
<path d="M2355,1188 L2355,1119.8 A68.2,68.2 0 0 0 2286.8,1188" fill="none" stroke="#000" stroke-width="1.6" stroke-dasharray="7,5"/>
<path d="M1740.3,2135 L1740.3,2202.5 A67.5,67.5 0 0 0 1807.8,2135" fill="none" stroke="#000" stroke-width="1.6" stroke-dasharray="7,5"/>
<path d="M2355,2135 L2355,2203.2 A68.2,68.2 0 0 1 2286.8,2135" fill="none" stroke="#000" stroke-width="1.6" stroke-dasharray="7,5"/>
<path d="M2851,2442.7 L2787.6,2442.7 A63.4,63.4 0 0 1 2851,2379.3" fill="none" stroke="#000" stroke-width="1.6"/>
<path d="M2851,2544 L2789,2544 A62,62 0 0 1 2851,2482" fill="none" stroke="#000" stroke-width="1.6"/>
<polyline points="2860,2309 2984,2309 2984,2458" fill="none" stroke="#000" stroke-width="1.8" />
<rect x="2908.5" y="2309" width="25" height="38.5" fill="none" stroke="#000" stroke-width="1.8" />
<rect x="2952" y="2391" width="32" height="38" fill="none" stroke="#000" stroke-width="1.8" />
<rect x="2955.5" y="2395" width="23.5" height="30" fill="none" stroke="#000" stroke-width="1.7" />
<circle cx="2974" cy="2410.5" r="1.8" fill="#000" stroke="none" stroke-width="0" />
<path d="M3006,1511 L3075.5,1511 A69.5,69.5 0 0 1 3006,1580.5" fill="none" stroke="#000" stroke-width="1.6"/>
<path d="M3006,1650 L3075.5,1650 A69.5,69.5 0 0 0 3006,1580.5" fill="none" stroke="#000" stroke-width="1.6"/>
<path d="M3196,1511 L3265.5,1511 A69.5,69.5 0 0 1 3196,1580.5" fill="none" stroke="#000" stroke-width="1.6"/>
<path d="M3196,1650 L3265.5,1650 A69.5,69.5 0 0 0 3196,1580.5" fill="none" stroke="#000" stroke-width="1.6"/>
<line x1="3196" y1="1511" x2="3196" y2="1650" stroke="#000" stroke-width="1.8" />
<line x1="3006" y1="1511" x2="3006" y2="1650" stroke="#000" stroke-width="1.8" />
<path d="M3006,1672 L3076,1672 A70,70 0 0 1 3006,1742" fill="none" stroke="#000" stroke-width="1.6"/>
<path d="M3006,1812 L3076,1812 A70,70 0 0 0 3006,1742" fill="none" stroke="#000" stroke-width="1.6"/>
<path d="M3196,1672 L3266,1672 A70,70 0 0 1 3196,1742" fill="none" stroke="#000" stroke-width="1.6"/>
<path d="M3196,1812 L3266,1812 A70,70 0 0 0 3196,1742" fill="none" stroke="#000" stroke-width="1.6"/>
<line x1="3196" y1="1672" x2="3196" y2="1812" stroke="#000" stroke-width="1.8" />
<line x1="3006" y1="1672" x2="3006" y2="1812" stroke="#000" stroke-width="1.8" />
<line x1="3001" y1="1498.2" x2="3196" y2="1498.2" stroke="#000" stroke-width="1.8" />
<line x1="3001" y1="1503.9" x2="3196" y2="1503.9" stroke="#000" stroke-width="1.8" />
<line x1="3001" y1="1498.2" x2="3001" y2="1503.9" stroke="#000" stroke-width="1.8" />
<line x1="3196" y1="1498.2" x2="3196" y2="1503.9" stroke="#000" stroke-width="1.8" />
<line x1="3001" y1="1650" x2="3196" y2="1650" stroke="#000" stroke-width="1.8" />
<line x1="3001" y1="1672" x2="3196" y2="1672" stroke="#000" stroke-width="1.8" />
<line x1="3001" y1="1650" x2="3001" y2="1672" stroke="#000" stroke-width="1.8" />
<line x1="3196" y1="1650" x2="3196" y2="1672" stroke="#000" stroke-width="1.8" />
<line x1="3001" y1="1819.6" x2="3196" y2="1819.6" stroke="#000" stroke-width="1.8" />
<line x1="3001" y1="1824.7" x2="3196" y2="1824.7" stroke="#000" stroke-width="1.8" />
<line x1="3001" y1="1819.6" x2="3001" y2="1824.7" stroke="#000" stroke-width="1.8" />
<line x1="3196" y1="1819.6" x2="3196" y2="1824.7" stroke="#000" stroke-width="1.8" />
<line x1="3001" y1="1503.9" x2="3001" y2="1512" stroke="#000" stroke-width="1.8" />
<line x1="3196" y1="1503.9" x2="3196" y2="1512" stroke="#000" stroke-width="1.8" />
<line x1="3001" y1="1812" x2="3001" y2="1819.6" stroke="#000" stroke-width="1.8" />
<line x1="3196" y1="1812" x2="3196" y2="1819.6" stroke="#000" stroke-width="1.8" />
<rect x="3037.2" y="1498.2" width="7" height="9.3" fill="none" stroke="#000" stroke-width="1.6" />
<rect x="3037.2" y="1815.5" width="7" height="9.2" fill="none" stroke="#000" stroke-width="1.6" />
<rect x="3107.7" y="1498.2" width="7" height="9.3" fill="none" stroke="#000" stroke-width="1.6" />
<rect x="3107.7" y="1815.5" width="7" height="9.2" fill="none" stroke="#000" stroke-width="1.6" />
<rect x="3179.5" y="1498.2" width="7" height="9.3" fill="none" stroke="#000" stroke-width="1.6" />
<rect x="3179.5" y="1815.5" width="7" height="9.2" fill="none" stroke="#000" stroke-width="1.6" />
<rect x="2997" y="1655" width="6" height="12" fill="none" stroke="#000" stroke-width="1.2" />
<rect x="3190" y="1655" width="6" height="12" fill="none" stroke="#000" stroke-width="1.2" />
<path d="M3046,1347 L3466,1347 L3466,1978 L3046,1978" fill="none" stroke="#000" stroke-width="2" stroke-dasharray="11,7"/>
<circle cx="3111" cy="1464" r="6.5" fill="#fff" stroke="#000" stroke-width="1.6" />
<circle cx="3111" cy="1859" r="6.5" fill="#fff" stroke="#000" stroke-width="1.6" />
<circle cx="3348" cy="1464" r="6.5" fill="#fff" stroke="#000" stroke-width="1.6" />
<circle cx="3348" cy="1859" r="6.5" fill="#fff" stroke="#000" stroke-width="1.6" />
<polyline points="2669,716 2669,754.6 2956,754.6 2956,923 2992,923" fill="none" stroke="#000" stroke-width="1.8" />
<rect x="2707.6" y="723" width="25.4" height="25" fill="none" stroke="#000" stroke-width="1.6" />
<rect x="2746" y="723" width="25" height="25" fill="none" stroke="#000" stroke-width="1.6" />
<rect x="2695" y="862.8" width="83" height="106.2" fill="none" stroke="#000" stroke-width="1.6" />
<rect x="2733" y="862.8" width="9" height="106.2" fill="#000" />
<rect x="2701.5" y="868.4" width="25.5" height="25.5" fill="none" stroke="#000" stroke-width="1.8" />
<circle cx="2750" cy="907.7" r="4.5" fill="none" stroke="#000" stroke-width="1.75" />
<circle cx="2768.9" cy="907.7" r="6.3" fill="none" stroke="#000" stroke-width="1.75" />
<circle cx="2750" cy="925.5" r="6" fill="none" stroke="#000" stroke-width="1.75" />
<circle cx="2768.9" cy="925.5" r="4.5" fill="none" stroke="#000" stroke-width="1.75" />
<polyline points="2678,979 2689.8,1011 2805.6,1021.4" fill="none" stroke="#000" stroke-width="1.8" />
<rect x="2822.4" y="970.4" width="58.6" height="6.1" fill="#fff" stroke="#000" stroke-width="1" />
<circle cx="2945" cy="975" r="45" fill="none" stroke="#000" stroke-width="1.6" />
<line x1="2945.5" y1="972" x2="2952.8" y2="930.7" stroke="#000" stroke-width="1.7" />
<line x1="2946.6" y1="972.5" x2="2969.2" y2="937" stroke="#000" stroke-width="1.7" />
<line x1="2947.5" y1="973.3" x2="2981.9" y2="949.2" stroke="#000" stroke-width="1.7" />
<line x1="2947.9" y1="974.4" x2="2988.9" y2="965.3" stroke="#000" stroke-width="1.7" />
<line x1="2948" y1="975.5" x2="2989.3" y2="982.8" stroke="#000" stroke-width="1.7" />
<line x1="2947.5" y1="976.6" x2="2983" y2="999.2" stroke="#000" stroke-width="1.7" />
<line x1="2946.7" y1="977.5" x2="2970.8" y2="1011.9" stroke="#000" stroke-width="1.7" />
<line x1="2945.6" y1="977.9" x2="2954.7" y2="1018.9" stroke="#000" stroke-width="1.7" />
<line x1="2944.5" y1="978" x2="2937.2" y2="1019.3" stroke="#000" stroke-width="1.7" />
<line x1="2943.4" y1="977.5" x2="2920.8" y2="1013" stroke="#000" stroke-width="1.7" />
<line x1="2942.5" y1="976.7" x2="2908.1" y2="1000.8" stroke="#000" stroke-width="1.7" />
<line x1="2942.1" y1="975.6" x2="2901.1" y2="984.7" stroke="#000" stroke-width="1.7" />
<line x1="2942" y1="974.5" x2="2900.7" y2="967.2" stroke="#000" stroke-width="1.7" />
<line x1="2942.5" y1="973.4" x2="2907" y2="950.8" stroke="#000" stroke-width="1.7" />
<line x1="2943.3" y1="972.5" x2="2919.2" y2="938.1" stroke="#000" stroke-width="1.7" />
<line x1="2944.4" y1="972.1" x2="2935.3" y2="931.1" stroke="#000" stroke-width="1.7" />
<circle cx="2945" cy="975" r="29" fill="none" stroke="#000" stroke-width="1.6" />
<line x1="2519" y1="765" x2="2519" y2="963" stroke="#000" stroke-width="1.75" />
<line x1="2566" y1="716" x2="2566" y2="1023" stroke="#000" stroke-width="1.75" />
<line x1="2847.2" y1="1040" x2="2882.3" y2="1121" stroke="#000" stroke-width="1.8" />
<line x1="2882.3" y1="1040" x2="2882.3" y2="1121" stroke="#000" stroke-width="1.8" />
<line x1="2899.9" y1="1040" x2="2899.9" y2="1121" stroke="#000" stroke-width="1.8" />
<line x1="2918.1" y1="1040" x2="2918.1" y2="1121" stroke="#000" stroke-width="1.8" />
<line x1="2865.5" y1="1040" x2="2865.5" y2="1082" stroke="#000" stroke-width="1.8" />
<line x1="2864" y1="1080" x2="2918" y2="1080" stroke="#000" stroke-width="1.8" />
<circle cx="2918" cy="1080" r="3" fill="none" stroke="#000" stroke-width="1.7" />
<line x1="2882.3" y1="1121" x2="2918.1" y2="1121" stroke="#000" stroke-width="1.8" />
<line x1="2840.2" y1="1128" x2="2910.4" y2="1128" stroke="#000" stroke-width="1.8" />
<polyline points="2840.2,1128 2840.2,1273.6 2992,1273.6" fill="none" stroke="#000" stroke-width="1.8" />
<polyline points="2857.8,1128 2857.8,1256 2992,1256" fill="none" stroke="#000" stroke-width="1.8" />
<polyline points="2876,1128 2876,1238.5 2992,1238.5" fill="none" stroke="#000" stroke-width="1.8" />
<polyline points="2893.5,1128 2893.5,1221 2992,1221" fill="none" stroke="#000" stroke-width="1.8" />
<polyline points="2910.4,1128 2910.4,1202.7 2992,1202.7" fill="none" stroke="#000" stroke-width="1.8" />
<line x1="2952.5" y1="1273.6" x2="2952.5" y2="1202.7" stroke="#000" stroke-width="1.4" />
<polyline points="2948.5,1215.7 2952.5,1202.7 2956.5,1215.7" fill="none" stroke="#000" stroke-width="1.4" />
<circle cx="2952.5" cy="1273.6" r="3" fill="none" stroke="#000" stroke-width="1.7" />
<polyline points="2992,2049.7 2840.5,2049.7 2840.5,2196" fill="none" stroke="#000" stroke-width="1.8" />
<polyline points="2992,2067.6 2858.3,2067.6 2858.3,2196" fill="none" stroke="#000" stroke-width="1.8" />
<polyline points="2992,2085.8 2876,2085.8 2876,2196" fill="none" stroke="#000" stroke-width="1.8" />
<polyline points="2992,2102.4 2894.4,2102.4 2894.4,2196" fill="none" stroke="#000" stroke-width="1.8" />
<polyline points="2992,2120.6 2911,2120.6 2911,2196" fill="none" stroke="#000" stroke-width="1.8" />
<line x1="2840.5" y1="2196" x2="2911" y2="2196" stroke="#000" stroke-width="1.8" />
<line x1="2951.6" y1="2049.7" x2="2951.6" y2="2120.6" stroke="#000" stroke-width="1.4" />
<polyline points="2947.6,2107.6 2951.6,2120.6 2955.6,2107.6" fill="none" stroke="#000" stroke-width="1.4" />
<circle cx="2951.6" cy="2049.7" r="3" fill="none" stroke="#000" stroke-width="1.7" />
<rect x="2882" y="2203" width="36.4" height="81" fill="none" stroke="#000" stroke-width="1.8" />
<line x1="2899.8" y1="2203" x2="2899.8" y2="2284" stroke="#000" stroke-width="1.8" />
<line x1="2882" y1="2203" x2="2848" y2="2284" stroke="#000" stroke-width="1.8" />
<line x1="2865" y1="2243.8" x2="2918.4" y2="2243.8" stroke="#000" stroke-width="1.8" />
<circle cx="2918.4" cy="2243.8" r="3" fill="none" stroke="#000" stroke-width="1.7" />
<line x1="2864.5" y1="2243.8" x2="2864.5" y2="2284" stroke="#000" stroke-width="1.8" />
<path d="M2663,1023 L2663,960 A63,63 0 0 0 2600,1023" fill="none" stroke="#000" stroke-width="1.6"/>
<line x1="1503.3" y1="2297.2" x2="1567" y2="2297.2" stroke="#000" stroke-width="1.7" />
<line x1="1503.3" y1="2314.3" x2="1567" y2="2314.3" stroke="#000" stroke-width="1.7" />
<line x1="1503.3" y1="2333" x2="1567" y2="2333" stroke="#000" stroke-width="1.7" />
<line x1="1503.3" y1="2350.8" x2="1567" y2="2350.8" stroke="#000" stroke-width="1.7" />
<line x1="1503.3" y1="2368.6" x2="1567" y2="2368.6" stroke="#000" stroke-width="1.7" />
<line x1="1503.3" y1="2386.5" x2="1567" y2="2386.5" stroke="#000" stroke-width="1.7" />
<line x1="1503.3" y1="2404.3" x2="1567" y2="2404.3" stroke="#000" stroke-width="1.7" />
<line x1="1503.3" y1="2421.4" x2="1567" y2="2421.4" stroke="#000" stroke-width="1.7" />
<line x1="1503.3" y1="2439.3" x2="1567" y2="2439.3" stroke="#000" stroke-width="1.7" />
<line x1="1503.3" y1="2456.1" x2="1567" y2="2456.1" stroke="#000" stroke-width="1.7" />
<line x1="1503.3" y1="2474" x2="1567" y2="2474" stroke="#000" stroke-width="1.7" />
<line x1="1503.3" y1="2491.8" x2="1567" y2="2491.8" stroke="#000" stroke-width="1.7" />
<line x1="1503.3" y1="2508.9" x2="1567" y2="2508.9" stroke="#000" stroke-width="1.7" />
<line x1="1503.3" y1="2526" x2="1567" y2="2526" stroke="#000" stroke-width="1.7" />
<line x1="1426.8" y1="2438.8" x2="1490.6" y2="2438.8" stroke="#000" stroke-width="1.7" />
<line x1="1426.8" y1="2456.1" x2="1490.6" y2="2456.1" stroke="#000" stroke-width="1.7" />
<line x1="1426.8" y1="2474" x2="1490.6" y2="2474" stroke="#000" stroke-width="1.7" />
<line x1="1426.8" y1="2491.8" x2="1490.6" y2="2491.8" stroke="#000" stroke-width="1.7" />
<line x1="1426.8" y1="2508.9" x2="1490.6" y2="2508.9" stroke="#000" stroke-width="1.7" />
<line x1="1426.8" y1="2526" x2="1490.6" y2="2526" stroke="#000" stroke-width="1.7" />
<rect x="1490.6" y="2284.4" width="12.7" height="199" fill="none" stroke="#000" stroke-width="1.7" />
<line x1="1503.3" y1="2461.7" x2="1567" y2="2428.6" stroke="#000" stroke-width="1.7" />
<line x1="1503.3" y1="2473.2" x2="1567" y2="2440" stroke="#000" stroke-width="1.7" />
<line x1="1535.2" y1="2526" x2="1535.2" y2="2297.2" stroke="#000" stroke-width="1.4" />
<polyline points="1531.2,2310.2 1535.2,2297.2 1539.2,2310.2" fill="none" stroke="#000" stroke-width="1.4" />
<circle cx="1535.2" cy="2526" r="3" fill="none" stroke="#000" stroke-width="1.7" />
<line x1="1458.2" y1="2438.8" x2="1458.2" y2="2526" stroke="#000" stroke-width="1.4" />
<polyline points="1454.2,2513 1458.2,2526 1462.2,2513" fill="none" stroke="#000" stroke-width="1.4" />
<circle cx="1458.2" cy="2438.8" r="3" fill="none" stroke="#000" stroke-width="1.7" />
<polyline points="1629.6,2296 1599,2311 1585,2388" fill="none" stroke="#000" stroke-width="1.75" />
<path d="M1118,1180 L1118,1124 A56,56 0 0 1 1174,1180" fill="none" stroke="#000" stroke-width="1.6"/>
<line x1="1102.3" y1="1106.6" x2="1409" y2="1106.6" stroke="#000" stroke-width="1.8" />
<line x1="1184.5" y1="1107" x2="1184.5" y2="1180" stroke="#000" stroke-width="1.7" />
<line x1="1202.5" y1="1107" x2="1202.5" y2="1180" stroke="#000" stroke-width="1.7" />
<line x1="1220.5" y1="1107" x2="1220.5" y2="1180" stroke="#000" stroke-width="1.7" />
<line x1="1238.5" y1="1107" x2="1238.5" y2="1180" stroke="#000" stroke-width="1.7" />
<line x1="1256" y1="1107" x2="1256" y2="1180" stroke="#000" stroke-width="1.7" />
<line x1="1273.5" y1="1107" x2="1273.5" y2="1180" stroke="#000" stroke-width="1.7" />
<line x1="1273.5" y1="1143" x2="1187" y2="1143" stroke="#000" stroke-width="1.4" />
<polyline points="1200,1139 1187,1143 1200,1147" fill="none" stroke="#000" stroke-width="1.4" />
<circle cx="1273.5" cy="1143" r="3" fill="none" stroke="#000" stroke-width="1.7" />
<rect x="1083" y="697" width="343" height="19" fill="#000" />
<rect x="1567" y="697" width="174.6" height="19" fill="#000" />
<rect x="1882.7" y="697" width="331.3" height="19" fill="#000" />
<rect x="2353.6" y="697" width="175.4" height="19" fill="#000" />
<rect x="2669" y="697" width="342" height="19" fill="#000" />
<rect x="2992" y="697" width="19" height="341" fill="#000" />
<rect x="2992" y="1180" width="19" height="267" fill="#000" />
<rect x="2992" y="1877" width="19" height="265" fill="#000" />
<rect x="2992" y="2284" width="20" height="342" fill="#000" />
<rect x="1083" y="2608" width="343" height="18" fill="#000" />
<rect x="1568" y="2608" width="173.6" height="18" fill="#000" />
<rect x="1881" y="2608" width="333" height="18" fill="#000" />
<rect x="2353.6" y="2608" width="176" height="18" fill="#000" />
<rect x="2669" y="2608" width="343" height="18" fill="#000" />
<rect x="1083" y="697" width="20" height="342" fill="#000" />
<rect x="1083" y="1180" width="20" height="963" fill="#000" />
<rect x="1083" y="2284.4" width="20" height="341.6" fill="#000" />
<rect x="1409" y="716" width="17" height="324" fill="#000" />
<rect x="1567" y="716" width="16.5" height="324" fill="#000" />
<rect x="1583.5" y="817.6" width="56.5" height="9.9" fill="#000" />
<rect x="1630" y="817.6" width="10" height="221.4" fill="#000" />
<rect x="1583.5" y="1029" width="56.5" height="10" fill="#000" />
<rect x="1083" y="1180" width="36.7" height="17" fill="#000" />
<rect x="1174" y="1180" width="356" height="17" fill="#000" />
<rect x="1410" y="1171" width="16" height="9" fill="#000" />
<rect x="1103" y="2127" width="15.4" height="17" fill="#000" />
<rect x="1174" y="2127" width="103" height="17" fill="#000" />
<rect x="1401" y="2127" width="129" height="17" fill="#000" />
<rect x="1410" y="2127" width="16" height="410" fill="#000" />
<rect x="1410" y="2598" width="16" height="10" fill="#000" />
<rect x="1567" y="2285" width="16" height="323" fill="#000" />
<rect x="1583" y="2285" width="57" height="10" fill="#000" />
<rect x="1629" y="2285" width="11" height="220" fill="#000" />
<rect x="1583" y="2391" width="57" height="10" fill="#000" />
<rect x="1583" y="2495" width="57" height="10" fill="#000" />
<rect x="2512" y="697" width="17" height="68" fill="#000" />
<rect x="2512" y="963" width="17" height="77" fill="#000" />
<rect x="2512" y="1023" width="88.5" height="17" fill="#000" />
<rect x="2663" y="1023" width="348" height="17" fill="#000" />
<rect x="2669" y="969" width="228" height="8" fill="#000" />
<rect x="2669" y="969" width="9" height="54" fill="#000" />
<rect x="2805.6" y="969" width="9.4" height="54" fill="#000" />
<rect x="2889" y="969" width="8" height="54" fill="#000" />
<rect x="2512" y="2284" width="32.5" height="17" fill="#000" />
<rect x="2669" y="2284" width="343" height="17" fill="#000" />
<rect x="2512" y="2284" width="17.6" height="342" fill="#000" />
<rect x="2851" y="2301" width="9" height="78" fill="#000" />
<rect x="2851" y="2442.7" width="9" height="40.3" fill="#000" />
<rect x="2851" y="2544" width="9" height="64" fill="#000" />
<rect x="2851" y="2458" width="141" height="8.4" fill="#000" />
<polygon points="2563,1182 2580,1182 2621,1380 2605,1380" fill="#000" stroke="none" stroke-width="0" />
<path d="M2621,1504 Q2631,1662 2621,1819 L2640,1819 Q2650,1662 2640,1504 Z" fill="#000" stroke="none" stroke-width="0" />
<polygon points="2602,1943 2622,1943 2583,2141 2564,2141" fill="#000" stroke="none" stroke-width="0" />
<circle cx="1574.7" cy="1188.5" r="17" fill="#000" stroke="none" stroke-width="0" />
<circle cx="2048" cy="1188.5" r="17" fill="#000" stroke="none" stroke-width="0" />
<circle cx="2520" cy="1188.5" r="17" fill="#000" stroke="none" stroke-width="0" />
<circle cx="2520" cy="1661" r="17" fill="#000" stroke="none" stroke-width="0" />
<circle cx="1574.7" cy="2135" r="17" fill="#000" stroke="none" stroke-width="0" />
<circle cx="2048" cy="2135" r="17" fill="#000" stroke="none" stroke-width="0" />
<circle cx="2520" cy="2135" r="17" fill="#000" stroke="none" stroke-width="0" />
<rect x="2822.4" y="970.4" width="58.6" height="6.1" fill="#fff" stroke="#000" stroke-width="1.2" />
<polygon points="0,-25 21,-2.2 21,14.6 6.5,-0.6 6.5,24.6 -6.5,24.6 -6.5,-0.6 -21,14.6 -21,-2.2" fill="#00B33C" transform="translate(1147.5,1230) rotate(0)"/>
<polygon points="0,-25 21,-2.2 21,14.6 6.5,-0.6 6.5,24.6 -6.5,24.6 -6.5,-0.6 -21,14.6 -21,-2.2" fill="#00B33C" transform="translate(1457.2,1074) rotate(0)"/>
<polygon points="0,-25 21,-2.2 21,14.6 6.5,-0.6 6.5,24.6 -6.5,24.6 -6.5,-0.6 -21,14.6 -21,-2.2" fill="#00B33C" transform="translate(1376.7,1107) rotate(90)"/>
<polygon points="0,-25 21,-2.2 21,14.6 6.5,-0.6 6.5,24.6 -6.5,24.6 -6.5,-0.6 -21,14.6 -21,-2.2" fill="#00B33C" transform="translate(1615.2,1107) rotate(270)"/>
<polygon points="0,-25 21,-2.2 21,14.6 6.5,-0.6 6.5,24.6 -6.5,24.6 -6.5,-0.6 -21,14.6 -21,-2.2" fill="#00B33C" transform="translate(2481,1107) rotate(90)"/>
<polygon points="0,-25 21,-2.2 21,14.6 6.5,-0.6 6.5,24.6 -6.5,24.6 -6.5,-0.6 -21,14.6 -21,-2.2" fill="#00B33C" transform="translate(2590,1447.5) rotate(90)"/>
<polygon points="0,-25 21,-2.2 21,14.6 6.5,-0.6 6.5,24.6 -6.5,24.6 -6.5,-0.6 -21,14.6 -21,-2.2" fill="#00B33C" transform="translate(2590,1876) rotate(90)"/>
<polygon points="0,-25 21,-2.2 21,14.6 6.5,-0.6 6.5,24.6 -6.5,24.6 -6.5,-0.6 -21,14.6 -21,-2.2" fill="#00B33C" transform="translate(2967,1580) rotate(90)"/>
<polygon points="0,-25 21,-2.2 21,14.6 6.5,-0.6 6.5,24.6 -6.5,24.6 -6.5,-0.6 -21,14.6 -21,-2.2" fill="#00B33C" transform="translate(2967,1743) rotate(90)"/>
<polygon points="0,-25 21,-2.2 21,14.6 6.5,-0.6 6.5,24.6 -6.5,24.6 -6.5,-0.6 -21,14.6 -21,-2.2" fill="#00B33C" transform="translate(1615.6,2215.6) rotate(270)"/>
<polygon points="0,-25 21,-2.2 21,14.6 6.5,-0.6 6.5,24.6 -6.5,24.6 -6.5,-0.6 -21,14.6 -21,-2.2" fill="#00B33C" transform="translate(2481,2215.6) rotate(90)"/>
<polygon points="0,-25 21,-2.2 21,14.6 6.5,-0.6 6.5,24.6 -6.5,24.6 -6.5,-0.6 -21,14.6 -21,-2.2" fill="#00B33C" transform="translate(2607.5,2334) rotate(0)"/>
<polygon points="0,-25 21,-2.2 21,14.6 6.5,-0.6 6.5,24.6 -6.5,24.6 -6.5,-0.6 -21,14.6 -21,-2.2" fill="#00B33C" transform="translate(1147,2093) rotate(180)"/>
<polygon points="0,-25 21,-2.2 21,14.6 6.5,-0.6 6.5,24.6 -6.5,24.6 -6.5,-0.6 -21,14.6 -21,-2.2" fill="#00B33C" transform="translate(1457.5,2247.6) rotate(180)"/>
<polygon points="0,-25 21,-2.2 21,14.6 6.5,-0.6 6.5,24.6 -6.5,24.6 -6.5,-0.6 -21,14.6 -21,-2.2" fill="#00B33C" transform="translate(1375.7,2568) rotate(90)"/>
<use href="#exa" transform="translate(1465,709.2) rotate(-90,32,32)"/>
<use href="#exm" transform="translate(1465,776.2) rotate(-90,32,32)"/>
<use href="#exml" transform="translate(1465.8,2484.2) rotate(-90,32,32)"/>
<use href="#exa" transform="translate(1465.8,2549.7) rotate(90,32,32)"/>
<use href="#exm" transform="translate(3055,1548)"/>
<use href="#exa" transform="translate(3121.4,1548)"/>
<use href="#exm" transform="translate(3055,1711)"/>
<use href="#exa" transform="translate(3121.4,1711)"/>
<use href="#fe" transform="translate(1438.1,1111)"/>
<use href="#fe" transform="translate(2534.5,721.5)"/>
<use href="#fe" transform="translate(2924,853)"/>
<use href="#fe" transform="translate(2740,1045)"/>
<use href="#fe" transform="translate(1341,2149)"/>
<use href="#fe" transform="translate(1438,2149)"/>
<use href="#fe" transform="translate(1110,2370)"/>
<use href="#fe" transform="translate(2740,2214.7)"/>
<circle cx="2703.6" cy="1077" r="31.6" fill="#0000FF" stroke="none" stroke-width="0" />
<use href="#rwa" transform="translate(1110,2300)"/>
<use href="#rwa" transform="translate(2924,1877)"/>
<use href="#kt" transform="translate(1179.5,2300)"/>
<use href="#defi" transform="translate(2671,2214.7)"/>
<text x="1167.9" y="905" font-size="21" text-anchor="start" font-weight="normal" fill="#000" textLength="96.4" lengthAdjust="spacingAndGlyphs" >Stuhllager</text>
<text x="1971.3" y="762.4" font-size="21" text-anchor="start" font-weight="normal" fill="#000" textLength="449.7" lengthAdjust="spacingAndGlyphs" >Kleiner Saal - 20 Tische mit max. 80 Personen</text>
<text x="2734.7" y="820" font-size="21" text-anchor="start" font-weight="normal" fill="#000" textLength="92.9" lengthAdjust="spacingAndGlyphs" >Teeküche</text>
<text x="1922.2" y="1445.4" font-size="21" text-anchor="start" font-weight="normal" fill="#000" textLength="329" lengthAdjust="spacingAndGlyphs" >Grosser Saal&#160;&#160;max. 330 Personen</text>
<text x="1277" y="1670.3" font-size="21" text-anchor="start" font-weight="normal" fill="#000" textLength="132" lengthAdjust="spacingAndGlyphs" >Szenenfläche</text>
<text x="2734" y="1670.4" font-size="21" text-anchor="start" font-weight="normal" fill="#000" textLength="53.8" lengthAdjust="spacingAndGlyphs" >Foyer</text>
<text x="1257" y="2437" font-size="21" text-anchor="start" font-weight="normal" fill="#000" textLength="66" lengthAdjust="spacingAndGlyphs" >Geräte</text>
<text x="1742.3" y="2486" font-size="21" text-anchor="start" font-weight="normal" fill="#000" textLength="198.3" lengthAdjust="spacingAndGlyphs" >Kleiner Saal (teilbar)</text>
<text x="2581.8" y="2486.3" font-size="21" text-anchor="start" font-weight="normal" fill="#000" textLength="103.2" lengthAdjust="spacingAndGlyphs" >Garderobe</text>
<text x="2887.3" y="2381.4" font-size="21" text-anchor="start" font-weight="normal" fill="#000" textLength="86" lengthAdjust="spacingAndGlyphs" >Beh. WC</text>
<text x="2887.3" y="2574.1" font-size="21" text-anchor="start" font-weight="normal" fill="#000" textLength="92" lengthAdjust="spacingAndGlyphs" >Putzraum</text>
<rect x="3931.5" y="357" width="670.8" height="669" fill="none" stroke="#EC0000" stroke-width="12.8" />
<text x="4264" y="424" font-size="45" text-anchor="middle" font-weight="bold" fill="#000" textLength="457" lengthAdjust="spacingAndGlyphs" >Verhalten im Brandfall</text>
<text x="4266" y="471" font-size="33.5" text-anchor="middle" font-weight="normal" fill="#000" textLength="228" lengthAdjust="spacingAndGlyphs" >Ruhe bewahren</text>
<line x1="3955" y1="495.5" x2="4578" y2="495.5" stroke="#000" stroke-width="1.8" />
<line x1="3955" y1="726.8" x2="4578" y2="726.8" stroke="#000" stroke-width="1.8" />
<line x1="3955" y1="893.8" x2="4578" y2="893.8" stroke="#000" stroke-width="1.8" />
<text x="3957" y="553.8" font-size="39" text-anchor="start" font-weight="bold" fill="#000" textLength="27.7" lengthAdjust="spacingAndGlyphs" >1.</text>
<text x="3994.5" y="553.8" font-size="32" text-anchor="start" font-weight="normal" fill="#000" textLength="184.4" lengthAdjust="spacingAndGlyphs" >Brand melden</text>
<use href="#bm" transform="translate(4193,514.4)"/>
<use href="#ph" transform="translate(4193,591)"/>
<text x="4276.6" y="530" font-size="20" text-anchor="start" font-weight="bold" fill="#000" textLength="264" lengthAdjust="spacingAndGlyphs" >Brandmelder betätigen&#160;&#160;&#160;oder</text>
<text x="4276.6" y="565.7" font-size="32" text-anchor="start" font-weight="bold" fill="#000" textLength="93" lengthAdjust="spacingAndGlyphs" >Notruf</text>
<text x="4413.7" y="565.7" font-size="32" text-anchor="start" font-weight="bold" fill="#000" textLength="48" lengthAdjust="spacingAndGlyphs" >112</text>
<text x="4276.6" y="595.7" font-size="21" text-anchor="start" font-weight="bold" fill="#000" textLength="35" lengthAdjust="spacingAndGlyphs" >WO</text>
<text x="4276.6" y="623" font-size="21" text-anchor="start" font-weight="bold" fill="#000" textLength="45" lengthAdjust="spacingAndGlyphs" >WAS</text>
<text x="4276.6" y="650.8" font-size="21" text-anchor="start" font-weight="bold" fill="#000" textLength="96" lengthAdjust="spacingAndGlyphs" >WIE VIELE</text>
<text x="4276.6" y="678.3" font-size="21" text-anchor="start" font-weight="bold" fill="#000" textLength="82" lengthAdjust="spacingAndGlyphs" >WELCHE</text>
<text x="4276.6" y="706.6" font-size="21" text-anchor="start" font-weight="bold" fill="#000" textLength="81" lengthAdjust="spacingAndGlyphs" >WARTEN</text>
<text x="4321.6" y="595.7" font-size="21" text-anchor="start" font-weight="normal" fill="#000" textLength="128" lengthAdjust="spacingAndGlyphs" >ist es passiert?</text>
<text x="4331.6" y="623" font-size="21" text-anchor="start" font-weight="normal" fill="#000" textLength="102" lengthAdjust="spacingAndGlyphs" >ist passiert?</text>
<text x="4378.6" y="650.8" font-size="21" text-anchor="start" font-weight="normal" fill="#000" textLength="195" lengthAdjust="spacingAndGlyphs" >sind betroffen/verletzt?</text>
<text x="4368.6" y="678.3" font-size="21" text-anchor="start" font-weight="normal" fill="#000" textLength="172" lengthAdjust="spacingAndGlyphs" >Gefahren liegenvor?</text>
<text x="4374.6" y="706.6" font-size="21" text-anchor="start" font-weight="normal" fill="#000" textLength="135" lengthAdjust="spacingAndGlyphs" >auf Rückfragen!</text>
<text x="3957" y="780.4" font-size="39" text-anchor="start" font-weight="bold" fill="#000" textLength="27.7" lengthAdjust="spacingAndGlyphs" >2.</text>
<text x="3994.5" y="780.4" font-size="32" text-anchor="start" font-weight="normal" fill="#000" textLength="165.5" lengthAdjust="spacingAndGlyphs" >In Sicherheit</text>
<text x="3994.5" y="813.5" font-size="32" text-anchor="start" font-weight="normal" fill="#000" textLength="103.4" lengthAdjust="spacingAndGlyphs" >bringen</text>
<use href="#exm2" transform="translate(4124.1,809.3)"/>
<use href="#exa2" transform="translate(4193,809.3)"/>
<text x="4276.6" y="752" font-size="21" text-anchor="start" font-weight="normal" fill="#000" textLength="281" lengthAdjust="spacingAndGlyphs" >Gefährdete Personen mitnehmen</text>
<text x="4276.6" y="780.4" font-size="21" text-anchor="start" font-weight="normal" fill="#000" textLength="136" lengthAdjust="spacingAndGlyphs" >Türen schließen</text>
<text x="4276.6" y="808" font-size="21" text-anchor="start" font-weight="normal" fill="#000" textLength="158" lengthAdjust="spacingAndGlyphs" >Gekennzeichneten</text>
<text x="4276.6" y="829.8" font-size="21" text-anchor="start" font-weight="normal" fill="#000" textLength="169" lengthAdjust="spacingAndGlyphs" >Rettungsweg folgen</text>
<text x="4276.6" y="858.2" font-size="21" text-anchor="start" font-weight="normal" fill="#000" textLength="189" lengthAdjust="spacingAndGlyphs" >Aufzug nicht benutzen</text>
<text x="4276.6" y="886" font-size="21" text-anchor="start" font-weight="normal" fill="#000" textLength="199" lengthAdjust="spacingAndGlyphs" >Anweisungen beachten</text>
<text x="3957" y="947.4" font-size="39" text-anchor="start" font-weight="bold" fill="#000" textLength="27.7" lengthAdjust="spacingAndGlyphs" >3.</text>
<text x="3994.5" y="947.4" font-size="32" text-anchor="start" font-weight="normal" fill="#000" textLength="182.8" lengthAdjust="spacingAndGlyphs" >Löschversuch</text>
<text x="3994.5" y="981" font-size="32" text-anchor="start" font-weight="normal" fill="#000" textLength="181.8" lengthAdjust="spacingAndGlyphs" >unternehmen</text>
<use href="#fe" transform="translate(4193,921.2)"/>
<text x="4276.6" y="961" font-size="21" text-anchor="start" font-weight="normal" fill="#000" textLength="193" lengthAdjust="spacingAndGlyphs" >Feuerlöscher benutzen</text>
<rect x="3931.5" y="1087" width="670.8" height="668.5" fill="none" stroke="#00B33C" stroke-width="12.8" />
<text x="4265" y="1154" font-size="45" text-anchor="middle" font-weight="bold" fill="#000" textLength="455" lengthAdjust="spacingAndGlyphs" >Verhalten bei Unfällen</text>
<text x="4266" y="1201" font-size="33.5" text-anchor="middle" font-weight="normal" fill="#000" textLength="228" lengthAdjust="spacingAndGlyphs" >Ruhe bewahren</text>
<line x1="3955" y1="1225.5" x2="4578" y2="1225.5" stroke="#000" stroke-width="1.8" />
<line x1="3955" y1="1456.5" x2="4578" y2="1456.5" stroke="#000" stroke-width="1.8" />
<line x1="3955" y1="1623.7" x2="4578" y2="1623.7" stroke="#000" stroke-width="1.8" />
<text x="3957" y="1283.8" font-size="39" text-anchor="start" font-weight="bold" fill="#000" textLength="27.7" lengthAdjust="spacingAndGlyphs" >1.</text>
<text x="3994.5" y="1283.8" font-size="32" text-anchor="start" font-weight="normal" fill="#000" textLength="182.8" lengthAdjust="spacingAndGlyphs" >Unfall melden</text>
<text x="4276.6" y="1272.7" font-size="32" text-anchor="start" font-weight="bold" fill="#000" textLength="93" lengthAdjust="spacingAndGlyphs" >Notruf</text>
<text x="4413.7" y="1272.7" font-size="32" text-anchor="start" font-weight="bold" fill="#000" textLength="48" lengthAdjust="spacingAndGlyphs" >112</text>
<use href="#phg" transform="translate(4193,1321)"/>
<text x="4276.6" y="1325.7" font-size="21" text-anchor="start" font-weight="bold" fill="#000" textLength="35" lengthAdjust="spacingAndGlyphs" >WO</text>
<text x="4321.6" y="1325.7" font-size="21" text-anchor="start" font-weight="normal" fill="#000" textLength="110" lengthAdjust="spacingAndGlyphs" >geschah es?</text>
<text x="4276.6" y="1353" font-size="21" text-anchor="start" font-weight="bold" fill="#000" textLength="45" lengthAdjust="spacingAndGlyphs" >WAS</text>
<text x="4331.6" y="1353" font-size="21" text-anchor="start" font-weight="normal" fill="#000" textLength="84" lengthAdjust="spacingAndGlyphs" >geschah?</text>
<text x="4276.6" y="1380.8" font-size="21" text-anchor="start" font-weight="bold" fill="#000" textLength="96" lengthAdjust="spacingAndGlyphs" >WIE VIELE</text>
<text x="4378.6" y="1380.8" font-size="21" text-anchor="start" font-weight="normal" fill="#000" textLength="91" lengthAdjust="spacingAndGlyphs" >Verletzte?</text>
<text x="4276.6" y="1408.3" font-size="21" text-anchor="start" font-weight="bold" fill="#000" textLength="82" lengthAdjust="spacingAndGlyphs" >WELCHE</text>
<text x="4368.6" y="1408.3" font-size="21" text-anchor="start" font-weight="normal" fill="#000" textLength="209" lengthAdjust="spacingAndGlyphs" >Arten von Verletzungen?</text>
<text x="4276.6" y="1436.6" font-size="21" text-anchor="start" font-weight="bold" fill="#000" textLength="81" lengthAdjust="spacingAndGlyphs" >WARTEN</text>
<text x="4374.6" y="1436.6" font-size="21" text-anchor="start" font-weight="normal" fill="#000" textLength="135" lengthAdjust="spacingAndGlyphs" >auf Rückfragen!</text>
<text x="3957" y="1510" font-size="39" text-anchor="start" font-weight="bold" fill="#000" textLength="27.7" lengthAdjust="spacingAndGlyphs" >2.</text>
<text x="3994.5" y="1510" font-size="32" text-anchor="start" font-weight="normal" fill="#000" textLength="137" lengthAdjust="spacingAndGlyphs" >Erste Hilfe</text>
<use href="#fa" transform="translate(4193,1497.4)"/>
<text x="4276.6" y="1488.2" font-size="21" text-anchor="start" font-weight="normal" fill="#000" textLength="107" lengthAdjust="spacingAndGlyphs" >Absicherung</text>
<text x="4276.6" y="1515" font-size="21" text-anchor="start" font-weight="normal" fill="#000" textLength="128" lengthAdjust="spacingAndGlyphs" >des Unfallortes</text>
<text x="4276.6" y="1557.2" font-size="21" text-anchor="start" font-weight="normal" fill="#000" textLength="221" lengthAdjust="spacingAndGlyphs" >Versorgung der Verletzten</text>
<text x="4276.6" y="1600" font-size="21" text-anchor="start" font-weight="normal" fill="#000" textLength="198" lengthAdjust="spacingAndGlyphs" >Anweisungen beachten</text>
<text x="3957" y="1678" font-size="39" text-anchor="start" font-weight="bold" fill="#000" textLength="27.7" lengthAdjust="spacingAndGlyphs" >3.</text>
<text x="3994.5" y="1678" font-size="32" text-anchor="start" font-weight="normal" fill="#000" textLength="100.8" lengthAdjust="spacingAndGlyphs" >Weitere</text>
<text x="3994.5" y="1711.7" font-size="32" text-anchor="start" font-weight="normal" fill="#000" textLength="171.8" lengthAdjust="spacingAndGlyphs" >Maßnahmen</text>
<text x="4276.6" y="1669" font-size="21" text-anchor="start" font-weight="normal" fill="#000" textLength="226" lengthAdjust="spacingAndGlyphs" >Rettungsdienste einweisen</text>
<text x="4276.6" y="1711" font-size="21" text-anchor="start" font-weight="normal" fill="#000" textLength="194" lengthAdjust="spacingAndGlyphs" >Schaulustige entfernen</text>
<rect x="3925.5" y="1811" width="682.3" height="945.8" fill="none" stroke="#000" stroke-width="2.2" />
<line x1="3925.5" y1="1884.7" x2="4607.8" y2="1884.7" stroke="#000" stroke-width="2" />
<text x="4244" y="1864.3" font-size="50" text-anchor="middle" font-weight="normal" fill="#000" textLength="188" lengthAdjust="spacingAndGlyphs" >Legende</text>
<circle cx="4118.7" cy="1949.4" r="31.9" fill="#0000FF" stroke="none" stroke-width="0" />
<text x="4186.3" y="1959.6" font-size="27.5" text-anchor="start" font-weight="normal" fill="#000" textLength="103" lengthAdjust="spacingAndGlyphs" >Standort</text>
<rect x="4021" y="2014" width="130" height="63.6" fill="#C2E0AE" />
<polygon points="0,-25 21,-2.2 21,14.6 6.5,-0.6 6.5,24.6 -6.5,24.6 -6.5,-0.6 -21,14.6 -21,-2.2" fill="#00B33C" transform="translate(4086,2045.8) rotate(90)"/>
<text x="4186.3" y="2054.6" font-size="27.5" text-anchor="start" font-weight="normal" fill="#000" textLength="125" lengthAdjust="spacingAndGlyphs" >Fluchtweg</text>
<use href="#exm" transform="translate(4021.2,2109)"/>
<use href="#exa" transform="translate(4087.3,2109)"/>
<text x="4186.3" y="2135" font-size="27.5" text-anchor="start" font-weight="normal" fill="#000" textLength="147" lengthAdjust="spacingAndGlyphs" >Notausgang</text>
<text x="4186.3" y="2163" font-size="27.5" text-anchor="start" font-weight="normal" fill="#000" textLength="216" lengthAdjust="spacingAndGlyphs" >mit Richtungspfeil</text>
<use href="#sam" transform="translate(4087,2203)"/>
<text x="4186.3" y="2243.4" font-size="27.5" text-anchor="start" font-weight="normal" fill="#000" textLength="163" lengthAdjust="spacingAndGlyphs" >Sammelstelle</text>
<use href="#bm" transform="translate(4087,2298)"/>
<text x="4186.3" y="2337.6" font-size="27.5" text-anchor="start" font-weight="normal" fill="#000" textLength="156" lengthAdjust="spacingAndGlyphs" >Brandmelder</text>
<use href="#fe" transform="translate(4087,2392)"/>
<text x="4186.3" y="2432.6" font-size="27.5" text-anchor="start" font-weight="normal" fill="#000" textLength="159" lengthAdjust="spacingAndGlyphs" >Feuerlöscher</text>
<use href="#rwa" transform="translate(4087,2487)"/>
<text x="4186.3" y="2526.7" font-size="27.5" text-anchor="start" font-weight="normal" fill="#000" textLength="263" lengthAdjust="spacingAndGlyphs" >Rauch-Wärme-Abzug</text>
<use href="#kt" transform="translate(4087,2581)"/>
<text x="4186.3" y="2620.7" font-size="27.5" text-anchor="start" font-weight="normal" fill="#000" textLength="163" lengthAdjust="spacingAndGlyphs" >Krankentrage</text>
<use href="#defi" transform="translate(4087,2666)"/>
<text x="4186.3" y="2706.2" font-size="27.5" text-anchor="start" font-weight="normal" fill="#000" textLength="138" lengthAdjust="spacingAndGlyphs" >Defibrillator</text>
<text x="3927" y="2835.5" font-size="21" text-anchor="start" font-weight="normal" fill="#000" textLength="216" lengthAdjust="spacingAndGlyphs" >Bestuhlungsvariante 2</text>
<text x="3926" y="2870.8" font-size="19" text-anchor="start" font-weight="normal" fill="#000" textLength="555" lengthAdjust="spacingAndGlyphs" >STADT FREIBURG IM BREISGAU&#160;&#160;-&#160;&#160;GEBÄUDEMANAGEMENT</text>
<text x="3927" y="2933.3" font-size="30" text-anchor="start" font-weight="normal" fill="#000" textLength="304" lengthAdjust="spacingAndGlyphs" >Bürgerhaus Zähringen</text>
<text x="3926" y="2988.4" font-size="19.5" text-anchor="start" font-weight="normal" fill="#000" textLength="278" lengthAdjust="spacingAndGlyphs" >FLWP&#160;&#160;-&#160;&#160;Grundriss Erdgeschoss</text>
<text x="4416" y="2988.4" font-size="19.5" text-anchor="start" font-weight="normal" fill="#000" textLength="69" lengthAdjust="spacingAndGlyphs" >M 1:125</text>
<text x="4533.5" y="2988.4" font-size="19.5" text-anchor="start" font-weight="normal" fill="#000" textLength="71.5" lengthAdjust="spacingAndGlyphs" >03.11.15</text>
<line x1="3923.6" y1="3005.7" x2="4608.5" y2="3005.7" stroke="#000" stroke-width="2.2" />
<text x="3926.5" y="3034" font-size="14.5" text-anchor="start" font-weight="normal" fill="#000" textLength="145" lengthAdjust="spacingAndGlyphs" >HABAMMER -&#160;&#160;LEIBER</text>
<text x="4090" y="3034" font-size="14.5" text-anchor="start" font-weight="normal" fill="#000" textLength="96" lengthAdjust="spacingAndGlyphs" >ARCHITEKTEN</text>
<text x="4214" y="3034" font-size="14.5" text-anchor="start" font-weight="normal" fill="#000" textLength="137" lengthAdjust="spacingAndGlyphs" >BASLERSTRASSE 19</text>
<text x="4372" y="3034" font-size="14.5" text-anchor="start" font-weight="normal" fill="#000" textLength="114" lengthAdjust="spacingAndGlyphs" >79100 FREIBURG</text>
<text x="4510" y="3034" font-size="14.5" text-anchor="start" font-weight="normal" fill="#000" textLength="95" lengthAdjust="spacingAndGlyphs" >0761 - 2115830</text>
<clipPath id="shc"><path d="M4529.5,2800 L4604.5,2800 C4604,2830 4599,2850 4585,2863 C4575,2872 4559,2872 4550,2863 C4536,2850 4531,2830 4529.5,2800 Z"/></clipPath>
<path d="M4529.5,2800 L4604.5,2800 C4604,2830 4599,2850 4585,2863 C4575,2872 4559,2872 4550,2863 C4536,2850 4531,2830 4529.5,2800 Z" fill="#fff" stroke="none" stroke-width="0" />
<g clip-path="url(#shc)">
<rect x="4558.9" y="2798" width="16.8" height="77" fill="#EC0000" />
<rect x="4527" y="2821" width="81" height="14.7" fill="#EC0000" />
</g>
<path d="M4529.5,2800 L4604.5,2800 C4604,2830 4599,2850 4585,2863 C4575,2872 4559,2872 4550,2863 C4536,2850 4531,2830 4529.5,2800 Z" fill="none" stroke="#EC0000" stroke-width="3.2" />
<clipPath id="ovc"><rect x="133.6" y="2423.7" width="683.4" height="609.3"/></clipPath>
<rect x="133.6" y="2349.7" width="683.4" height="683.3" fill="none" stroke="#000" stroke-width="2.2" />
<line x1="133.6" y1="2423.7" x2="817" y2="2423.7" stroke="#000" stroke-width="2" />
<text x="474.5" y="2404" font-size="48" text-anchor="middle" font-weight="normal" fill="#000" textLength="322" lengthAdjust="spacingAndGlyphs" >Übersichtsplan</text>
<g clip-path="url(#ovc)">
<polygon points="130,2425 152.7,2425 152.7,2434 130,2436" fill="#C8C8C8" stroke="#000" stroke-width="2.6" />
<polygon points="184,2431.3 203,2429.5 203,2424 233,2424 233,2428 259.7,2426 262.7,2478 188,2484.8" fill="#C8C8C8" stroke="#000" stroke-width="2.6" />
<polygon points="267,2454 284.8,2452.5 287,2489.4 269.7,2491" fill="#C8C8C8" stroke="#000" stroke-width="2.6" />
<polygon points="284.8,2447 367.4,2441.3 372.5,2498.4 289.3,2504.5" fill="#C8C8C8" stroke="#000" stroke-width="2.6" />
<polygon points="367.4,2432.2 409.7,2429.2 412.4,2463 370.4,2467" fill="#C8C8C8" stroke="#000" stroke-width="2.6" />
<line x1="133" y1="2547" x2="678" y2="2501.8" stroke="#000" stroke-width="1" />
<line x1="133" y1="2567.4" x2="477.7" y2="2537.7" stroke="#000" stroke-width="3" />
<polyline points="477.7,2537.7 477.7,2648 440.5,2648" fill="none" stroke="#000" stroke-width="1" />
<line x1="643" y1="2424" x2="643" y2="2504" stroke="#000" stroke-width="1" />
<line x1="662.8" y1="2424" x2="662.3" y2="2502" stroke="#000" stroke-width="1" />
<path d="M720,2424 C690,2470 672,2520 660,2560 C650,2610 646,2680 645.5,2760 L640,3033" fill="none" stroke="#000" stroke-width="1" />
<path d="M817,2452 C760,2510 725,2590 715,2680 L711,2760 L705,3033" fill="none" stroke="#000" stroke-width="1" />
<line x1="730.8" y1="2587.6" x2="817" y2="2588.5" stroke="#000" stroke-width="1" />
<line x1="709" y1="2897" x2="817" y2="2898.5" stroke="#000" stroke-width="1" />
<polyline points="495,2555.9 634,2555.9 634,2542.6 667.3,2539" fill="none" stroke="#000" stroke-width="2.6" />
<polyline points="495,2594 634,2594 634,2555.9" fill="none" stroke="#000" stroke-width="2.6" />
<rect x="495" y="2555.9" width="152.7" height="92.1" fill="none" stroke="#000" stroke-width="1" />
<rect x="495" y="2724" width="151" height="59" fill="none" stroke="#000" stroke-width="1" />
<line x1="495" y1="2724" x2="495" y2="2783" stroke="#000" stroke-width="2.6" />
<line x1="495" y1="2783" x2="646" y2="2783" stroke="#000" stroke-width="2.6" />
<ellipse cx="508.6" cy="2597.6" rx="19.5" ry="18.7" fill="none" stroke="#000" stroke-width="2.6" stroke-dasharray="7,5"/>
<ellipse cx="552.4" cy="2597.6" rx="19.5" ry="18.7" fill="none" stroke="#000" stroke-width="2.6" stroke-dasharray="7,5"/>
<ellipse cx="596.3" cy="2597.6" rx="19.5" ry="18.7" fill="none" stroke="#000" stroke-width="2.6" stroke-dasharray="7,5"/>
<ellipse cx="640.7" cy="2597.6" rx="19.5" ry="18.7" fill="none" stroke="#000" stroke-width="2.6" stroke-dasharray="7,5"/>
<ellipse cx="508.6" cy="2641.5" rx="19.5" ry="18.7" fill="none" stroke="#000" stroke-width="2.6" stroke-dasharray="7,5"/>
<ellipse cx="552.4" cy="2641.5" rx="19.5" ry="18.7" fill="none" stroke="#000" stroke-width="2.6" stroke-dasharray="7,5"/>
<ellipse cx="596.3" cy="2641.5" rx="19.5" ry="18.7" fill="none" stroke="#000" stroke-width="2.6" stroke-dasharray="7,5"/>
<ellipse cx="640.7" cy="2641.5" rx="19.5" ry="18.7" fill="none" stroke="#000" stroke-width="2.6" stroke-dasharray="7,5"/>
<ellipse cx="508.6" cy="2730" rx="19.5" ry="18.7" fill="none" stroke="#000" stroke-width="2.6" stroke-dasharray="7,5"/>
<ellipse cx="552.4" cy="2730" rx="19.5" ry="18.7" fill="none" stroke="#000" stroke-width="2.6" stroke-dasharray="7,5"/>
<ellipse cx="596.3" cy="2730" rx="19.5" ry="18.7" fill="none" stroke="#000" stroke-width="2.6" stroke-dasharray="7,5"/>
<ellipse cx="640.7" cy="2730" rx="19.5" ry="18.7" fill="none" stroke="#000" stroke-width="2.6" stroke-dasharray="7,5"/>
<ellipse cx="508.6" cy="2774" rx="19.5" ry="18.7" fill="none" stroke="#000" stroke-width="2.6" stroke-dasharray="7,5"/>
<ellipse cx="552.4" cy="2774" rx="19.5" ry="18.7" fill="none" stroke="#000" stroke-width="2.6" stroke-dasharray="7,5"/>
<ellipse cx="596.3" cy="2774" rx="19.5" ry="18.7" fill="none" stroke="#000" stroke-width="2.6" stroke-dasharray="7,5"/>
<ellipse cx="640.7" cy="2774" rx="19.5" ry="18.7" fill="none" stroke="#000" stroke-width="2.6" stroke-dasharray="7,5"/>
<polygon points="245.5,2589.5 440,2589.5 440,2669.5 458,2669.5 458,2703.8 440,2703.8 440,2783 245.5,2783" fill="#C5A484" stroke="#000" stroke-width="3" />
<polygon points="120,2643 160.2,2643 160.2,2850 120,2850" fill="#C8C8C8" stroke="#000" stroke-width="2.6" />
<line x1="160.8" y1="2799" x2="477.7" y2="2799" stroke="#000" stroke-width="1.6" />
<polyline points="442,2724 477.7,2724 477.7,2799" fill="none" stroke="#000" stroke-width="1" />
<line x1="160.2" y1="2817.8" x2="313.5" y2="2817.8" stroke="#000" stroke-width="2.6" />
<line x1="379" y1="2817.8" x2="477.7" y2="2817.8" stroke="#000" stroke-width="2.6" />
<line x1="477.7" y1="2817.8" x2="477.7" y2="3040" stroke="#000" stroke-width="2.6" />
<rect x="313.5" y="2817.8" width="65.5" height="47.5" fill="none" stroke="#000" stroke-width="2.2" stroke-dasharray="6,4"/>
<polygon points="269.7,2865.3 477.7,2865.3 477.7,3040 269.7,3040 269.7,2899.5 250,2899.5 250,2883.4 269.7,2883.4" fill="#C8C8C8" stroke="#000" stroke-width="2.6" />
<polygon points="718,2960 767,2961 820,2962 820,3040 716,3040" fill="#C8C8C8" stroke="#000" stroke-width="2.6" />
<line x1="767" y1="2961" x2="766" y2="3040" stroke="#000" stroke-width="2.6" />
</g>
<text transform="translate(690,3004) rotate(-90)" font-size="35.5" textLength="191" lengthAdjust="spacingAndGlyphs">Lameystraße</text>
</svg></body></html>
